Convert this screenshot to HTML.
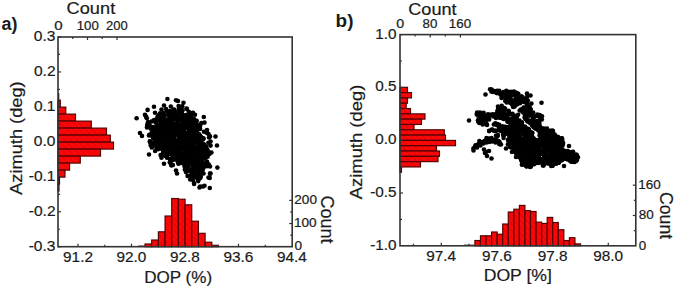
<!DOCTYPE html>
<html><head><meta charset="utf-8"><style>
html,body{margin:0;padding:0;background:#fff;}
svg{display:block;}
</style></head><body>
<svg width="675" height="290" viewBox="0 0 675 290">
<defs>
<pattern id="hatch" patternUnits="userSpaceOnUse" width="4.5" height="4.5" patternTransform="rotate(-45)">
<rect width="4.5" height="4.5" fill="#f80808"/>
<line x1="0" y1="0" x2="0" y2="4.5" stroke="#dc0000" stroke-width="1.2"/>
</pattern>
</defs>
<rect width="675" height="290" fill="#fff"/>
<g>
<rect x="58.00" y="100.10" width="2.30" height="7.00" fill="url(#hatch)" stroke="#500000" stroke-width="1.15"/>
<rect x="58.00" y="107.10" width="7.80" height="7.00" fill="url(#hatch)" stroke="#500000" stroke-width="1.15"/>
<rect x="58.00" y="114.10" width="17.50" height="7.00" fill="url(#hatch)" stroke="#500000" stroke-width="1.15"/>
<rect x="58.00" y="121.10" width="33.30" height="7.00" fill="url(#hatch)" stroke="#500000" stroke-width="1.15"/>
<rect x="58.00" y="128.10" width="48.50" height="7.00" fill="url(#hatch)" stroke="#500000" stroke-width="1.15"/>
<rect x="58.00" y="135.10" width="52.30" height="7.00" fill="url(#hatch)" stroke="#500000" stroke-width="1.15"/>
<rect x="58.00" y="142.10" width="55.50" height="7.00" fill="url(#hatch)" stroke="#500000" stroke-width="1.15"/>
<rect x="58.00" y="149.10" width="42.50" height="7.00" fill="url(#hatch)" stroke="#500000" stroke-width="1.15"/>
<rect x="58.00" y="156.10" width="22.30" height="7.00" fill="url(#hatch)" stroke="#500000" stroke-width="1.15"/>
<rect x="58.00" y="163.10" width="11.60" height="7.00" fill="url(#hatch)" stroke="#500000" stroke-width="1.15"/>
<rect x="58.00" y="170.10" width="7.00" height="7.00" fill="url(#hatch)" stroke="#500000" stroke-width="1.15"/>
<rect x="58.00" y="177.10" width="1.50" height="7.00" fill="url(#hatch)" stroke="#500000" stroke-width="1.15"/>
<rect x="58.00" y="184.10" width="1.00" height="7.00" fill="url(#hatch)" stroke="#500000" stroke-width="1.15"/>
<rect x="145.00" y="244.00" width="6.68" height="2.70" fill="url(#hatch)" stroke="#500000" stroke-width="1.15"/>
<rect x="151.68" y="240.00" width="6.68" height="6.70" fill="url(#hatch)" stroke="#500000" stroke-width="1.15"/>
<rect x="158.36" y="231.80" width="6.68" height="14.90" fill="url(#hatch)" stroke="#500000" stroke-width="1.15"/>
<rect x="165.04" y="216.00" width="6.68" height="30.70" fill="url(#hatch)" stroke="#500000" stroke-width="1.15"/>
<rect x="171.72" y="198.50" width="6.68" height="48.20" fill="url(#hatch)" stroke="#500000" stroke-width="1.15"/>
<rect x="178.40" y="199.20" width="6.68" height="47.50" fill="url(#hatch)" stroke="#500000" stroke-width="1.15"/>
<rect x="185.08" y="204.80" width="6.68" height="41.90" fill="url(#hatch)" stroke="#500000" stroke-width="1.15"/>
<rect x="191.76" y="221.20" width="6.68" height="25.50" fill="url(#hatch)" stroke="#500000" stroke-width="1.15"/>
<rect x="198.44" y="233.30" width="6.68" height="13.40" fill="url(#hatch)" stroke="#500000" stroke-width="1.15"/>
<rect x="205.12" y="242.20" width="6.68" height="4.50" fill="url(#hatch)" stroke="#500000" stroke-width="1.15"/>
<rect x="211.80" y="245.30" width="6.68" height="1.40" fill="url(#hatch)" stroke="#500000" stroke-width="1.15"/>
<rect x="138.3" y="245.50" width="6.7" height="1.2" fill="#5a0a0a"/>
<rect x="58.0" y="93.2" width="1.3" height="6.9" fill="#5a0a0a"/>
</g>
<g fill="#000">
<circle cx="164.6" cy="141.3" r="2.3"/>
<circle cx="181.6" cy="137.0" r="2.3"/>
<circle cx="176.4" cy="156.1" r="2.3"/>
<circle cx="166.1" cy="109.1" r="2.3"/>
<circle cx="201.5" cy="170.5" r="2.3"/>
<circle cx="188.2" cy="148.7" r="2.3"/>
<circle cx="194.2" cy="153.9" r="2.3"/>
<circle cx="155.1" cy="134.4" r="2.3"/>
<circle cx="188.1" cy="160.6" r="2.3"/>
<circle cx="162.2" cy="147.5" r="2.3"/>
<circle cx="189.4" cy="160.9" r="2.3"/>
<circle cx="167.9" cy="150.7" r="2.3"/>
<circle cx="169.9" cy="132.8" r="2.3"/>
<circle cx="207.2" cy="153.7" r="2.3"/>
<circle cx="155.8" cy="141.6" r="2.3"/>
<circle cx="179.8" cy="108.9" r="2.3"/>
<circle cx="182.2" cy="135.6" r="2.3"/>
<circle cx="171.2" cy="147.2" r="2.3"/>
<circle cx="199.2" cy="134.3" r="2.3"/>
<circle cx="192.5" cy="153.0" r="2.3"/>
<circle cx="178.7" cy="135.3" r="2.3"/>
<circle cx="198.9" cy="151.6" r="2.3"/>
<circle cx="153.7" cy="120.2" r="2.3"/>
<circle cx="161.8" cy="133.8" r="2.3"/>
<circle cx="189.3" cy="160.3" r="2.3"/>
<circle cx="149.5" cy="134.7" r="2.3"/>
<circle cx="206.6" cy="132.8" r="2.3"/>
<circle cx="179.9" cy="140.7" r="2.3"/>
<circle cx="207.6" cy="156.7" r="2.3"/>
<circle cx="158.0" cy="149.2" r="2.3"/>
<circle cx="155.3" cy="122.0" r="2.3"/>
<circle cx="160.1" cy="140.2" r="2.3"/>
<circle cx="165.7" cy="148.7" r="2.3"/>
<circle cx="163.1" cy="121.8" r="2.3"/>
<circle cx="173.2" cy="142.5" r="2.3"/>
<circle cx="157.9" cy="120.0" r="2.3"/>
<circle cx="197.4" cy="127.9" r="2.3"/>
<circle cx="203.6" cy="138.5" r="2.3"/>
<circle cx="194.0" cy="133.9" r="2.3"/>
<circle cx="195.6" cy="160.3" r="2.3"/>
<circle cx="193.4" cy="159.1" r="2.3"/>
<circle cx="202.4" cy="166.1" r="2.3"/>
<circle cx="187.4" cy="167.3" r="2.3"/>
<circle cx="191.6" cy="160.8" r="2.3"/>
<circle cx="201.8" cy="172.6" r="2.3"/>
<circle cx="185.7" cy="124.9" r="2.3"/>
<circle cx="171.7" cy="134.9" r="2.3"/>
<circle cx="192.0" cy="118.5" r="2.3"/>
<circle cx="182.8" cy="116.1" r="2.3"/>
<circle cx="160.7" cy="119.8" r="2.3"/>
<circle cx="197.4" cy="167.5" r="2.3"/>
<circle cx="206.3" cy="151.2" r="2.3"/>
<circle cx="154.3" cy="130.6" r="2.3"/>
<circle cx="153.0" cy="129.8" r="2.3"/>
<circle cx="189.1" cy="117.6" r="2.3"/>
<circle cx="182.1" cy="129.1" r="2.3"/>
<circle cx="190.5" cy="156.4" r="2.3"/>
<circle cx="160.9" cy="121.0" r="2.3"/>
<circle cx="168.8" cy="153.9" r="2.3"/>
<circle cx="170.3" cy="160.8" r="2.3"/>
<circle cx="160.9" cy="127.5" r="2.3"/>
<circle cx="196.5" cy="154.5" r="2.3"/>
<circle cx="173.0" cy="117.8" r="2.3"/>
<circle cx="163.5" cy="112.8" r="2.3"/>
<circle cx="169.9" cy="120.6" r="2.3"/>
<circle cx="176.7" cy="151.8" r="2.3"/>
<circle cx="149.9" cy="141.3" r="2.3"/>
<circle cx="172.9" cy="165.0" r="2.3"/>
<circle cx="171.9" cy="154.3" r="2.3"/>
<circle cx="186.0" cy="158.9" r="2.3"/>
<circle cx="200.9" cy="155.5" r="2.3"/>
<circle cx="200.0" cy="163.4" r="2.3"/>
<circle cx="194.1" cy="136.8" r="2.3"/>
<circle cx="172.8" cy="126.7" r="2.3"/>
<circle cx="164.9" cy="154.9" r="2.3"/>
<circle cx="199.6" cy="164.1" r="2.3"/>
<circle cx="183.2" cy="146.0" r="2.3"/>
<circle cx="196.8" cy="159.3" r="2.3"/>
<circle cx="193.0" cy="156.3" r="2.3"/>
<circle cx="165.3" cy="143.7" r="2.3"/>
<circle cx="165.6" cy="132.8" r="2.3"/>
<circle cx="191.3" cy="118.4" r="2.3"/>
<circle cx="172.3" cy="133.9" r="2.3"/>
<circle cx="162.6" cy="125.1" r="2.3"/>
<circle cx="175.5" cy="117.7" r="2.3"/>
<circle cx="155.1" cy="140.0" r="2.3"/>
<circle cx="184.0" cy="132.7" r="2.3"/>
<circle cx="152.8" cy="127.5" r="2.3"/>
<circle cx="184.3" cy="138.6" r="2.3"/>
<circle cx="154.1" cy="131.6" r="2.3"/>
<circle cx="178.6" cy="106.1" r="2.3"/>
<circle cx="210.6" cy="145.6" r="2.3"/>
<circle cx="161.5" cy="127.5" r="2.3"/>
<circle cx="182.6" cy="158.3" r="2.3"/>
<circle cx="186.9" cy="109.0" r="2.3"/>
<circle cx="193.0" cy="112.8" r="2.3"/>
<circle cx="169.8" cy="124.9" r="2.3"/>
<circle cx="177.8" cy="116.4" r="2.3"/>
<circle cx="202.9" cy="150.3" r="2.3"/>
<circle cx="152.4" cy="136.5" r="2.3"/>
<circle cx="158.1" cy="147.4" r="2.3"/>
<circle cx="201.1" cy="165.2" r="2.3"/>
<circle cx="151.5" cy="121.5" r="2.3"/>
<circle cx="198.3" cy="167.3" r="2.3"/>
<circle cx="185.5" cy="150.1" r="2.3"/>
<circle cx="181.4" cy="149.0" r="2.3"/>
<circle cx="159.9" cy="148.6" r="2.3"/>
<circle cx="152.2" cy="127.7" r="2.3"/>
<circle cx="160.7" cy="140.9" r="2.3"/>
<circle cx="188.7" cy="128.4" r="2.3"/>
<circle cx="191.8" cy="129.5" r="2.3"/>
<circle cx="175.3" cy="133.5" r="2.3"/>
<circle cx="169.8" cy="115.1" r="2.3"/>
<circle cx="205.3" cy="147.2" r="2.3"/>
<circle cx="178.6" cy="146.8" r="2.3"/>
<circle cx="202.3" cy="159.0" r="2.3"/>
<circle cx="165.4" cy="127.5" r="2.3"/>
<circle cx="152.7" cy="130.0" r="2.3"/>
<circle cx="170.9" cy="123.0" r="2.3"/>
<circle cx="193.3" cy="126.6" r="2.3"/>
<circle cx="165.6" cy="134.6" r="2.3"/>
<circle cx="168.8" cy="121.6" r="2.3"/>
<circle cx="194.2" cy="124.9" r="2.3"/>
<circle cx="189.0" cy="132.6" r="2.3"/>
<circle cx="183.2" cy="128.5" r="2.3"/>
<circle cx="177.7" cy="158.6" r="2.3"/>
<circle cx="154.5" cy="129.7" r="2.3"/>
<circle cx="180.9" cy="139.1" r="2.3"/>
<circle cx="197.0" cy="159.5" r="2.3"/>
<circle cx="175.8" cy="154.6" r="2.3"/>
<circle cx="190.1" cy="120.8" r="2.3"/>
<circle cx="165.0" cy="139.0" r="2.3"/>
<circle cx="171.1" cy="164.7" r="2.3"/>
<circle cx="196.2" cy="138.5" r="2.3"/>
<circle cx="177.1" cy="126.1" r="2.3"/>
<circle cx="180.9" cy="112.6" r="2.3"/>
<circle cx="192.3" cy="173.4" r="2.3"/>
<circle cx="183.5" cy="123.4" r="2.3"/>
<circle cx="193.2" cy="121.1" r="2.3"/>
<circle cx="179.7" cy="160.2" r="2.3"/>
<circle cx="192.1" cy="143.2" r="2.3"/>
<circle cx="201.6" cy="155.4" r="2.3"/>
<circle cx="170.4" cy="123.9" r="2.3"/>
<circle cx="165.0" cy="135.1" r="2.3"/>
<circle cx="190.3" cy="131.2" r="2.3"/>
<circle cx="192.1" cy="136.9" r="2.3"/>
<circle cx="184.7" cy="153.7" r="2.3"/>
<circle cx="184.4" cy="143.9" r="2.3"/>
<circle cx="199.5" cy="167.6" r="2.3"/>
<circle cx="162.3" cy="140.9" r="2.3"/>
<circle cx="198.2" cy="156.6" r="2.3"/>
<circle cx="176.4" cy="142.5" r="2.3"/>
<circle cx="184.8" cy="140.9" r="2.3"/>
<circle cx="147.1" cy="125.9" r="2.3"/>
<circle cx="157.1" cy="135.2" r="2.3"/>
<circle cx="200.1" cy="128.7" r="2.3"/>
<circle cx="193.4" cy="129.8" r="2.3"/>
<circle cx="197.0" cy="131.7" r="2.3"/>
<circle cx="177.2" cy="118.5" r="2.3"/>
<circle cx="179.1" cy="146.7" r="2.3"/>
<circle cx="187.6" cy="136.8" r="2.3"/>
<circle cx="195.5" cy="134.9" r="2.3"/>
<circle cx="206.8" cy="166.3" r="2.3"/>
<circle cx="155.8" cy="130.8" r="2.3"/>
<circle cx="168.2" cy="153.4" r="2.3"/>
<circle cx="184.9" cy="141.1" r="2.3"/>
<circle cx="191.1" cy="130.7" r="2.3"/>
<circle cx="189.2" cy="121.3" r="2.3"/>
<circle cx="170.6" cy="153.3" r="2.3"/>
<circle cx="194.2" cy="119.8" r="2.3"/>
<circle cx="158.6" cy="115.3" r="2.3"/>
<circle cx="190.6" cy="115.5" r="2.3"/>
<circle cx="178.5" cy="142.8" r="2.3"/>
<circle cx="208.3" cy="153.3" r="2.3"/>
<circle cx="190.1" cy="152.2" r="2.3"/>
<circle cx="161.5" cy="157.7" r="2.3"/>
<circle cx="173.5" cy="109.6" r="2.3"/>
<circle cx="185.7" cy="166.7" r="2.3"/>
<circle cx="170.7" cy="117.8" r="2.3"/>
<circle cx="184.3" cy="139.0" r="2.3"/>
<circle cx="200.8" cy="137.3" r="2.3"/>
<circle cx="174.1" cy="128.6" r="2.3"/>
<circle cx="179.2" cy="147.8" r="2.3"/>
<circle cx="193.2" cy="161.7" r="2.3"/>
<circle cx="161.9" cy="143.0" r="2.3"/>
<circle cx="173.7" cy="113.6" r="2.3"/>
<circle cx="183.6" cy="146.0" r="2.3"/>
<circle cx="200.2" cy="148.2" r="2.3"/>
<circle cx="178.0" cy="140.3" r="2.3"/>
<circle cx="162.6" cy="145.6" r="2.3"/>
<circle cx="190.2" cy="127.7" r="2.3"/>
<circle cx="173.6" cy="144.8" r="2.3"/>
<circle cx="168.5" cy="129.2" r="2.3"/>
<circle cx="159.9" cy="127.5" r="2.3"/>
<circle cx="198.2" cy="181.1" r="2.3"/>
<circle cx="165.4" cy="121.8" r="2.3"/>
<circle cx="194.5" cy="138.6" r="2.3"/>
<circle cx="202.5" cy="150.7" r="2.3"/>
<circle cx="187.9" cy="156.0" r="2.3"/>
<circle cx="193.4" cy="147.4" r="2.3"/>
<circle cx="157.2" cy="141.3" r="2.3"/>
<circle cx="189.4" cy="125.7" r="2.3"/>
<circle cx="161.2" cy="133.9" r="2.3"/>
<circle cx="195.4" cy="138.3" r="2.3"/>
<circle cx="174.2" cy="127.6" r="2.3"/>
<circle cx="157.6" cy="116.8" r="2.3"/>
<circle cx="174.3" cy="136.8" r="2.3"/>
<circle cx="162.2" cy="143.5" r="2.3"/>
<circle cx="196.2" cy="129.4" r="2.3"/>
<circle cx="169.2" cy="130.5" r="2.3"/>
<circle cx="188.5" cy="166.8" r="2.3"/>
<circle cx="156.9" cy="139.5" r="2.3"/>
<circle cx="174.7" cy="131.2" r="2.3"/>
<circle cx="172.0" cy="155.0" r="2.3"/>
<circle cx="199.5" cy="163.2" r="2.3"/>
<circle cx="199.4" cy="125.9" r="2.3"/>
<circle cx="177.5" cy="154.2" r="2.3"/>
<circle cx="165.1" cy="137.9" r="2.3"/>
<circle cx="159.2" cy="135.5" r="2.3"/>
<circle cx="195.4" cy="167.4" r="2.3"/>
<circle cx="197.3" cy="133.9" r="2.3"/>
<circle cx="182.0" cy="125.0" r="2.3"/>
<circle cx="193.3" cy="151.9" r="2.3"/>
<circle cx="167.2" cy="111.5" r="2.3"/>
<circle cx="192.4" cy="148.1" r="2.3"/>
<circle cx="189.1" cy="146.9" r="2.3"/>
<circle cx="169.5" cy="133.9" r="2.3"/>
<circle cx="186.9" cy="155.2" r="2.3"/>
<circle cx="179.7" cy="153.6" r="2.3"/>
<circle cx="193.1" cy="142.5" r="2.3"/>
<circle cx="198.0" cy="179.6" r="2.3"/>
<circle cx="191.2" cy="119.5" r="2.3"/>
<circle cx="182.8" cy="137.6" r="2.3"/>
<circle cx="190.0" cy="132.0" r="2.3"/>
<circle cx="172.1" cy="136.5" r="2.3"/>
<circle cx="181.5" cy="128.5" r="2.3"/>
<circle cx="155.9" cy="140.2" r="2.3"/>
<circle cx="183.1" cy="118.0" r="2.3"/>
<circle cx="197.0" cy="153.3" r="2.3"/>
<circle cx="191.7" cy="156.0" r="2.3"/>
<circle cx="198.6" cy="158.9" r="2.3"/>
<circle cx="160.9" cy="142.1" r="2.3"/>
<circle cx="161.4" cy="135.4" r="2.3"/>
<circle cx="181.8" cy="117.4" r="2.3"/>
<circle cx="184.9" cy="144.3" r="2.3"/>
<circle cx="188.6" cy="170.7" r="2.3"/>
<circle cx="183.4" cy="124.7" r="2.3"/>
<circle cx="182.0" cy="133.8" r="2.3"/>
<circle cx="173.0" cy="152.3" r="2.3"/>
<circle cx="179.3" cy="131.3" r="2.3"/>
<circle cx="191.5" cy="133.8" r="2.3"/>
<circle cx="171.7" cy="117.1" r="2.3"/>
<circle cx="173.5" cy="159.6" r="2.3"/>
<circle cx="184.2" cy="118.5" r="2.3"/>
<circle cx="189.4" cy="141.2" r="2.3"/>
<circle cx="187.1" cy="170.4" r="2.3"/>
<circle cx="178.3" cy="134.0" r="2.3"/>
<circle cx="156.5" cy="144.6" r="2.3"/>
<circle cx="153.3" cy="130.8" r="2.3"/>
<circle cx="164.7" cy="152.1" r="2.3"/>
<circle cx="175.5" cy="114.2" r="2.3"/>
<circle cx="162.8" cy="124.4" r="2.3"/>
<circle cx="184.4" cy="166.0" r="2.3"/>
<circle cx="179.2" cy="135.7" r="2.3"/>
<circle cx="207.2" cy="152.0" r="2.3"/>
<circle cx="199.9" cy="178.1" r="2.3"/>
<circle cx="194.2" cy="163.0" r="2.3"/>
<circle cx="192.7" cy="159.8" r="2.3"/>
<circle cx="190.8" cy="153.9" r="2.3"/>
<circle cx="174.7" cy="114.4" r="2.3"/>
<circle cx="192.3" cy="148.8" r="2.3"/>
<circle cx="185.9" cy="153.2" r="2.3"/>
<circle cx="197.1" cy="156.1" r="2.3"/>
<circle cx="194.5" cy="153.5" r="2.3"/>
<circle cx="208.4" cy="142.8" r="2.3"/>
<circle cx="160.6" cy="155.1" r="2.3"/>
<circle cx="201.5" cy="142.7" r="2.3"/>
<circle cx="163.9" cy="155.1" r="2.3"/>
<circle cx="191.9" cy="138.9" r="2.3"/>
<circle cx="194.1" cy="173.6" r="2.3"/>
<circle cx="180.9" cy="133.3" r="2.3"/>
<circle cx="183.7" cy="143.2" r="2.3"/>
<circle cx="193.0" cy="158.1" r="2.3"/>
<circle cx="199.9" cy="135.8" r="2.3"/>
<circle cx="173.8" cy="124.3" r="2.3"/>
<circle cx="165.4" cy="119.8" r="2.3"/>
<circle cx="194.6" cy="167.4" r="2.3"/>
<circle cx="148.1" cy="122.0" r="2.3"/>
<circle cx="200.9" cy="157.9" r="2.3"/>
<circle cx="179.8" cy="157.3" r="2.3"/>
<circle cx="159.8" cy="132.4" r="2.3"/>
<circle cx="180.0" cy="110.2" r="2.3"/>
<circle cx="189.7" cy="126.5" r="2.3"/>
<circle cx="163.3" cy="146.2" r="2.3"/>
<circle cx="153.9" cy="130.4" r="2.3"/>
<circle cx="165.3" cy="148.2" r="2.3"/>
<circle cx="164.7" cy="145.7" r="2.3"/>
<circle cx="204.1" cy="156.8" r="2.3"/>
<circle cx="169.9" cy="159.1" r="2.3"/>
<circle cx="166.8" cy="137.5" r="2.3"/>
<circle cx="177.1" cy="122.8" r="2.3"/>
<circle cx="190.9" cy="170.4" r="2.3"/>
<circle cx="182.7" cy="143.1" r="2.3"/>
<circle cx="185.5" cy="116.3" r="2.3"/>
<circle cx="196.4" cy="137.6" r="2.3"/>
<circle cx="162.7" cy="141.5" r="2.3"/>
<circle cx="163.7" cy="143.7" r="2.3"/>
<circle cx="202.6" cy="164.0" r="2.3"/>
<circle cx="204.0" cy="131.8" r="2.3"/>
<circle cx="188.5" cy="128.7" r="2.3"/>
<circle cx="189.0" cy="156.2" r="2.3"/>
<circle cx="184.1" cy="158.6" r="2.3"/>
<circle cx="181.4" cy="139.2" r="2.3"/>
<circle cx="184.4" cy="157.0" r="2.3"/>
<circle cx="169.9" cy="111.1" r="2.3"/>
<circle cx="160.4" cy="117.5" r="2.3"/>
<circle cx="172.8" cy="154.1" r="2.3"/>
<circle cx="180.4" cy="134.5" r="2.3"/>
<circle cx="157.6" cy="142.9" r="2.3"/>
<circle cx="169.5" cy="127.2" r="2.3"/>
<circle cx="186.5" cy="165.2" r="2.3"/>
<circle cx="174.9" cy="115.1" r="2.3"/>
<circle cx="172.3" cy="118.6" r="2.3"/>
<circle cx="182.7" cy="163.3" r="2.3"/>
<circle cx="207.4" cy="149.6" r="2.3"/>
<circle cx="151.1" cy="145.5" r="2.3"/>
<circle cx="186.3" cy="155.3" r="2.3"/>
<circle cx="183.5" cy="125.2" r="2.3"/>
<circle cx="165.8" cy="156.1" r="2.3"/>
<circle cx="173.7" cy="125.2" r="2.3"/>
<circle cx="174.6" cy="124.1" r="2.3"/>
<circle cx="177.2" cy="148.4" r="2.3"/>
<circle cx="193.8" cy="118.9" r="2.3"/>
<circle cx="199.9" cy="167.4" r="2.3"/>
<circle cx="160.2" cy="134.6" r="2.3"/>
<circle cx="156.1" cy="138.9" r="2.3"/>
<circle cx="158.2" cy="134.8" r="2.3"/>
<circle cx="199.4" cy="178.5" r="2.3"/>
<circle cx="199.9" cy="160.2" r="2.3"/>
<circle cx="185.7" cy="146.8" r="2.3"/>
<circle cx="169.6" cy="151.9" r="2.3"/>
<circle cx="186.7" cy="123.0" r="2.3"/>
<circle cx="170.0" cy="127.4" r="2.3"/>
<circle cx="191.4" cy="134.8" r="2.3"/>
<circle cx="161.7" cy="146.4" r="2.3"/>
<circle cx="172.9" cy="155.0" r="2.3"/>
<circle cx="156.8" cy="124.9" r="2.3"/>
<circle cx="193.6" cy="150.8" r="2.3"/>
<circle cx="187.1" cy="164.7" r="2.3"/>
<circle cx="182.2" cy="106.3" r="2.3"/>
<circle cx="202.4" cy="152.9" r="2.3"/>
<circle cx="177.4" cy="143.2" r="2.3"/>
<circle cx="205.6" cy="165.0" r="2.3"/>
<circle cx="180.7" cy="140.1" r="2.3"/>
<circle cx="177.7" cy="128.2" r="2.3"/>
<circle cx="195.0" cy="158.2" r="2.3"/>
<circle cx="161.5" cy="140.1" r="2.3"/>
<circle cx="190.5" cy="149.1" r="2.3"/>
<circle cx="181.9" cy="156.7" r="2.3"/>
<circle cx="185.1" cy="132.9" r="2.3"/>
<circle cx="196.9" cy="172.3" r="2.3"/>
<circle cx="189.5" cy="116.2" r="2.3"/>
<circle cx="170.7" cy="147.9" r="2.3"/>
<circle cx="183.6" cy="129.6" r="2.3"/>
<circle cx="181.7" cy="112.5" r="2.3"/>
<circle cx="188.2" cy="136.9" r="2.3"/>
<circle cx="165.4" cy="148.7" r="2.3"/>
<circle cx="181.9" cy="123.7" r="2.3"/>
<circle cx="201.7" cy="152.1" r="2.3"/>
<circle cx="186.7" cy="151.5" r="2.3"/>
<circle cx="198.2" cy="142.6" r="2.3"/>
<circle cx="175.4" cy="159.1" r="2.3"/>
<circle cx="160.1" cy="113.3" r="2.3"/>
<circle cx="160.6" cy="124.1" r="2.3"/>
<circle cx="162.5" cy="128.8" r="2.3"/>
<circle cx="161.1" cy="126.1" r="2.3"/>
<circle cx="179.0" cy="144.6" r="2.3"/>
<circle cx="160.9" cy="140.3" r="2.3"/>
<circle cx="206.1" cy="155.9" r="2.3"/>
<circle cx="164.8" cy="128.0" r="2.3"/>
<circle cx="177.7" cy="161.7" r="2.3"/>
<circle cx="194.8" cy="139.1" r="2.3"/>
<circle cx="184.3" cy="128.9" r="2.3"/>
<circle cx="199.8" cy="129.0" r="2.3"/>
<circle cx="190.6" cy="128.7" r="2.3"/>
<circle cx="189.3" cy="125.8" r="2.3"/>
<circle cx="203.2" cy="168.2" r="2.3"/>
<circle cx="200.5" cy="177.4" r="2.3"/>
<circle cx="160.6" cy="140.9" r="2.3"/>
<circle cx="168.7" cy="138.5" r="2.3"/>
<circle cx="201.7" cy="160.8" r="2.3"/>
<circle cx="198.5" cy="170.1" r="2.3"/>
<circle cx="195.0" cy="161.3" r="2.3"/>
<circle cx="200.8" cy="158.9" r="2.3"/>
<circle cx="163.9" cy="151.5" r="2.3"/>
<circle cx="185.3" cy="150.9" r="2.3"/>
<circle cx="165.6" cy="133.4" r="2.3"/>
<circle cx="181.2" cy="129.9" r="2.3"/>
<circle cx="163.5" cy="131.8" r="2.3"/>
<circle cx="163.1" cy="117.5" r="2.3"/>
<circle cx="194.3" cy="151.1" r="2.3"/>
<circle cx="200.2" cy="125.6" r="2.3"/>
<circle cx="198.4" cy="138.5" r="2.3"/>
<circle cx="162.5" cy="141.4" r="2.3"/>
<circle cx="170.2" cy="148.4" r="2.3"/>
<circle cx="198.5" cy="171.2" r="2.3"/>
<circle cx="170.7" cy="163.1" r="2.3"/>
<circle cx="191.8" cy="146.9" r="2.3"/>
<circle cx="197.1" cy="150.4" r="2.3"/>
<circle cx="170.9" cy="113.9" r="2.3"/>
<circle cx="180.5" cy="161.2" r="2.3"/>
<circle cx="186.7" cy="134.7" r="2.3"/>
<circle cx="184.3" cy="156.0" r="2.3"/>
<circle cx="150.8" cy="128.7" r="2.3"/>
<circle cx="153.9" cy="130.2" r="2.3"/>
<circle cx="156.2" cy="142.0" r="2.3"/>
<circle cx="182.9" cy="148.2" r="2.3"/>
<circle cx="189.9" cy="163.6" r="2.3"/>
<circle cx="173.0" cy="147.5" r="2.3"/>
<circle cx="180.1" cy="130.2" r="2.3"/>
<circle cx="173.9" cy="140.2" r="2.3"/>
<circle cx="190.9" cy="128.6" r="2.3"/>
<circle cx="181.4" cy="161.2" r="2.3"/>
<circle cx="151.8" cy="147.5" r="2.3"/>
<circle cx="200.2" cy="136.1" r="2.3"/>
<circle cx="191.1" cy="164.1" r="2.3"/>
<circle cx="155.4" cy="132.4" r="2.3"/>
<circle cx="156.7" cy="144.2" r="2.3"/>
<circle cx="187.0" cy="167.7" r="2.3"/>
<circle cx="178.7" cy="142.8" r="2.3"/>
<circle cx="176.8" cy="158.0" r="2.3"/>
<circle cx="155.1" cy="151.0" r="2.3"/>
<circle cx="186.3" cy="126.9" r="2.3"/>
<circle cx="158.4" cy="132.8" r="2.3"/>
<circle cx="187.0" cy="146.6" r="2.3"/>
<circle cx="184.3" cy="140.6" r="2.3"/>
<circle cx="197.0" cy="177.5" r="2.3"/>
<circle cx="163.3" cy="150.5" r="2.3"/>
<circle cx="195.6" cy="160.5" r="2.3"/>
<circle cx="177.9" cy="114.7" r="2.3"/>
<circle cx="194.7" cy="123.9" r="2.3"/>
<circle cx="149.7" cy="125.3" r="2.3"/>
<circle cx="174.5" cy="118.7" r="2.3"/>
<circle cx="193.8" cy="127.6" r="2.3"/>
<circle cx="162.9" cy="125.2" r="2.3"/>
<circle cx="197.1" cy="129.4" r="2.3"/>
<circle cx="184.3" cy="119.9" r="2.3"/>
<circle cx="170.6" cy="131.3" r="2.3"/>
<circle cx="154.5" cy="142.0" r="2.3"/>
<circle cx="208.9" cy="152.4" r="2.3"/>
<circle cx="190.2" cy="179.4" r="2.3"/>
<circle cx="182.9" cy="126.4" r="2.3"/>
<circle cx="194.8" cy="141.2" r="2.3"/>
<circle cx="160.3" cy="148.4" r="2.3"/>
<circle cx="195.0" cy="143.1" r="2.3"/>
<circle cx="190.8" cy="147.0" r="2.3"/>
<circle cx="177.5" cy="143.3" r="2.3"/>
<circle cx="197.2" cy="148.2" r="2.3"/>
<circle cx="191.3" cy="123.1" r="2.3"/>
<circle cx="172.0" cy="136.6" r="2.3"/>
<circle cx="178.3" cy="146.8" r="2.3"/>
<circle cx="195.3" cy="123.8" r="2.3"/>
<circle cx="200.6" cy="176.4" r="2.3"/>
<circle cx="197.5" cy="126.1" r="2.3"/>
<circle cx="158.7" cy="136.3" r="2.3"/>
<circle cx="170.1" cy="138.5" r="2.3"/>
<circle cx="191.0" cy="160.3" r="2.3"/>
<circle cx="163.3" cy="129.7" r="2.3"/>
<circle cx="173.3" cy="136.8" r="2.3"/>
<circle cx="186.1" cy="138.7" r="2.3"/>
<circle cx="161.8" cy="141.6" r="2.3"/>
<circle cx="197.3" cy="174.5" r="2.3"/>
<circle cx="180.5" cy="159.4" r="2.3"/>
<circle cx="150.7" cy="145.0" r="2.3"/>
<circle cx="172.5" cy="127.3" r="2.3"/>
<circle cx="170.2" cy="140.8" r="2.3"/>
<circle cx="195.5" cy="126.8" r="2.3"/>
<circle cx="167.1" cy="157.3" r="2.3"/>
<circle cx="179.5" cy="156.5" r="2.3"/>
<circle cx="194.0" cy="143.2" r="2.3"/>
<circle cx="149.0" cy="135.5" r="2.3"/>
<circle cx="167.9" cy="130.8" r="2.3"/>
<circle cx="163.6" cy="116.8" r="2.3"/>
<circle cx="154.5" cy="139.0" r="2.3"/>
<circle cx="192.7" cy="148.3" r="2.3"/>
<circle cx="157.4" cy="142.1" r="2.3"/>
<circle cx="171.5" cy="121.2" r="2.3"/>
<circle cx="194.2" cy="164.1" r="2.3"/>
<circle cx="156.7" cy="128.9" r="2.3"/>
<circle cx="192.0" cy="171.5" r="2.3"/>
<circle cx="200.3" cy="160.8" r="2.3"/>
<circle cx="202.6" cy="147.1" r="2.3"/>
<circle cx="170.6" cy="150.8" r="2.3"/>
<circle cx="194.5" cy="120.1" r="2.3"/>
<circle cx="190.5" cy="148.2" r="2.3"/>
<circle cx="182.8" cy="118.8" r="2.3"/>
<circle cx="171.8" cy="112.0" r="2.3"/>
<circle cx="197.2" cy="159.5" r="2.3"/>
<circle cx="187.6" cy="175.9" r="2.3"/>
<circle cx="181.7" cy="136.9" r="2.3"/>
<circle cx="177.7" cy="156.6" r="2.3"/>
<circle cx="176.8" cy="144.4" r="2.3"/>
<circle cx="201.3" cy="144.8" r="2.3"/>
<circle cx="190.9" cy="151.8" r="2.3"/>
<circle cx="187.2" cy="156.1" r="2.3"/>
<circle cx="179.2" cy="109.1" r="2.3"/>
<circle cx="163.1" cy="150.1" r="2.3"/>
<circle cx="181.7" cy="153.6" r="2.3"/>
<circle cx="183.1" cy="129.1" r="2.3"/>
<circle cx="185.2" cy="163.2" r="2.3"/>
<circle cx="197.4" cy="124.9" r="2.3"/>
<circle cx="152.7" cy="145.0" r="2.3"/>
<circle cx="206.7" cy="131.3" r="2.3"/>
<circle cx="189.4" cy="150.6" r="2.3"/>
<circle cx="195.2" cy="153.3" r="2.3"/>
<circle cx="156.7" cy="148.8" r="2.3"/>
<circle cx="178.8" cy="149.9" r="2.3"/>
<circle cx="184.9" cy="169.6" r="2.3"/>
<circle cx="170.2" cy="134.2" r="2.3"/>
<circle cx="188.4" cy="124.8" r="2.3"/>
<circle cx="196.0" cy="147.2" r="2.3"/>
<circle cx="194.6" cy="152.4" r="2.3"/>
<circle cx="174.6" cy="139.2" r="2.3"/>
<circle cx="179.4" cy="150.5" r="2.3"/>
<circle cx="172.9" cy="127.3" r="2.3"/>
<circle cx="154.6" cy="135.5" r="2.3"/>
<circle cx="161.6" cy="119.8" r="2.3"/>
<circle cx="205.3" cy="158.8" r="2.3"/>
<circle cx="180.4" cy="119.4" r="2.3"/>
<circle cx="181.8" cy="162.8" r="2.3"/>
<circle cx="154.0" cy="145.6" r="2.3"/>
<circle cx="155.7" cy="132.4" r="2.3"/>
<circle cx="180.5" cy="129.8" r="2.3"/>
<circle cx="188.0" cy="132.6" r="2.3"/>
<circle cx="187.2" cy="157.8" r="2.3"/>
<circle cx="182.5" cy="110.4" r="2.3"/>
<circle cx="198.8" cy="162.1" r="2.3"/>
<circle cx="194.0" cy="145.0" r="2.3"/>
<circle cx="181.8" cy="147.5" r="2.3"/>
<circle cx="204.6" cy="154.1" r="2.3"/>
<circle cx="176.6" cy="151.8" r="2.3"/>
<circle cx="168.2" cy="139.6" r="2.3"/>
<circle cx="185.0" cy="117.6" r="2.3"/>
<circle cx="184.6" cy="116.4" r="2.3"/>
<circle cx="183.0" cy="154.4" r="2.3"/>
<circle cx="193.6" cy="141.0" r="2.3"/>
<circle cx="184.9" cy="133.4" r="2.3"/>
<circle cx="196.2" cy="136.0" r="2.3"/>
<circle cx="175.4" cy="126.4" r="2.3"/>
<circle cx="180.2" cy="107.5" r="2.3"/>
<circle cx="203.2" cy="156.4" r="2.3"/>
<circle cx="187.4" cy="139.0" r="2.3"/>
<circle cx="177.2" cy="144.9" r="2.3"/>
<circle cx="183.9" cy="131.6" r="2.3"/>
<circle cx="182.9" cy="133.6" r="2.3"/>
<circle cx="171.1" cy="141.3" r="2.3"/>
<circle cx="160.4" cy="128.3" r="2.3"/>
<circle cx="182.1" cy="124.1" r="2.3"/>
<circle cx="188.9" cy="117.3" r="2.3"/>
<circle cx="194.7" cy="121.4" r="2.3"/>
<circle cx="184.3" cy="142.8" r="2.3"/>
<circle cx="185.9" cy="125.7" r="2.3"/>
<circle cx="197.2" cy="166.9" r="2.3"/>
<circle cx="182.4" cy="128.4" r="2.3"/>
<circle cx="188.1" cy="150.9" r="2.3"/>
<circle cx="179.9" cy="119.8" r="2.3"/>
<circle cx="156.4" cy="123.0" r="2.3"/>
<circle cx="170.4" cy="137.4" r="2.3"/>
<circle cx="185.2" cy="147.6" r="2.3"/>
<circle cx="166.6" cy="147.2" r="2.3"/>
<circle cx="204.0" cy="163.4" r="2.3"/>
<circle cx="191.8" cy="158.8" r="2.3"/>
<circle cx="176.2" cy="119.4" r="2.3"/>
<circle cx="198.6" cy="143.7" r="2.3"/>
<circle cx="197.7" cy="170.4" r="2.3"/>
<circle cx="200.0" cy="160.0" r="2.3"/>
<circle cx="190.2" cy="136.4" r="2.3"/>
<circle cx="172.2" cy="122.9" r="2.3"/>
<circle cx="184.8" cy="144.9" r="2.3"/>
<circle cx="181.6" cy="113.8" r="2.3"/>
<circle cx="170.9" cy="121.6" r="2.3"/>
<circle cx="174.4" cy="156.5" r="2.3"/>
<circle cx="186.8" cy="135.9" r="2.3"/>
<circle cx="156.6" cy="128.0" r="2.3"/>
<circle cx="184.7" cy="149.0" r="2.3"/>
<circle cx="162.4" cy="131.6" r="2.3"/>
<circle cx="180.1" cy="124.4" r="2.3"/>
<circle cx="194.3" cy="164.3" r="2.3"/>
<circle cx="182.4" cy="120.4" r="2.3"/>
<circle cx="186.4" cy="116.2" r="2.3"/>
<circle cx="165.7" cy="151.0" r="2.3"/>
<circle cx="172.6" cy="129.2" r="2.3"/>
<circle cx="169.0" cy="125.0" r="2.3"/>
<circle cx="190.6" cy="134.3" r="2.3"/>
<circle cx="178.4" cy="142.0" r="2.3"/>
<circle cx="174.0" cy="119.2" r="2.3"/>
<circle cx="167.3" cy="149.9" r="2.3"/>
<circle cx="169.3" cy="118.2" r="2.3"/>
<circle cx="180.8" cy="140.0" r="2.3"/>
<circle cx="174.6" cy="140.7" r="2.3"/>
<circle cx="158.2" cy="120.3" r="2.3"/>
<circle cx="166.3" cy="125.0" r="2.3"/>
<circle cx="182.8" cy="121.8" r="2.3"/>
<circle cx="168.6" cy="146.5" r="2.3"/>
<circle cx="199.4" cy="141.9" r="2.3"/>
<circle cx="170.6" cy="125.2" r="2.3"/>
<circle cx="161.8" cy="121.4" r="2.3"/>
<circle cx="185.5" cy="160.8" r="2.3"/>
<circle cx="169.2" cy="134.9" r="2.3"/>
<circle cx="180.7" cy="132.9" r="2.3"/>
<circle cx="171.0" cy="135.7" r="2.3"/>
<circle cx="179.3" cy="109.3" r="2.3"/>
<circle cx="171.8" cy="144.0" r="2.3"/>
<circle cx="166.8" cy="141.4" r="2.3"/>
<circle cx="180.1" cy="119.1" r="2.3"/>
<circle cx="160.0" cy="134.4" r="2.3"/>
<circle cx="192.8" cy="177.2" r="2.3"/>
<circle cx="171.4" cy="132.2" r="2.3"/>
<circle cx="161.9" cy="131.3" r="2.3"/>
<circle cx="173.0" cy="159.4" r="2.3"/>
<circle cx="175.3" cy="112.4" r="2.3"/>
<circle cx="170.8" cy="130.3" r="2.3"/>
<circle cx="193.0" cy="167.9" r="2.3"/>
<circle cx="189.7" cy="118.6" r="2.3"/>
<circle cx="168.5" cy="141.3" r="2.3"/>
<circle cx="202.5" cy="165.2" r="2.3"/>
<circle cx="185.7" cy="140.8" r="2.3"/>
<circle cx="192.8" cy="130.7" r="2.3"/>
<circle cx="165.0" cy="150.2" r="2.3"/>
<circle cx="170.7" cy="145.2" r="2.3"/>
<circle cx="166.5" cy="120.9" r="2.3"/>
<circle cx="187.9" cy="121.5" r="2.3"/>
<circle cx="166.4" cy="141.8" r="2.3"/>
<circle cx="191.6" cy="155.3" r="2.3"/>
<circle cx="185.4" cy="138.0" r="2.3"/>
<circle cx="154.5" cy="138.8" r="2.3"/>
<circle cx="163.4" cy="122.7" r="2.3"/>
<circle cx="200.7" cy="170.1" r="2.3"/>
<circle cx="194.9" cy="123.3" r="2.3"/>
<circle cx="167.9" cy="115.0" r="2.3"/>
<circle cx="180.7" cy="130.9" r="2.3"/>
<circle cx="163.3" cy="136.8" r="2.3"/>
<circle cx="182.5" cy="127.1" r="2.3"/>
<circle cx="192.5" cy="151.8" r="2.3"/>
<circle cx="154.8" cy="120.8" r="2.3"/>
<circle cx="166.3" cy="125.6" r="2.3"/>
<circle cx="163.1" cy="153.0" r="2.3"/>
<circle cx="172.7" cy="116.8" r="2.3"/>
<circle cx="180.5" cy="154.5" r="2.3"/>
<circle cx="198.6" cy="167.1" r="2.3"/>
<circle cx="209.1" cy="137.4" r="2.3"/>
<circle cx="181.0" cy="118.2" r="2.3"/>
<circle cx="174.6" cy="109.9" r="2.3"/>
<circle cx="187.3" cy="150.7" r="2.3"/>
<circle cx="204.5" cy="154.8" r="2.3"/>
<circle cx="190.6" cy="175.4" r="2.3"/>
<circle cx="193.4" cy="166.5" r="2.3"/>
<circle cx="198.6" cy="166.4" r="2.3"/>
<circle cx="204.1" cy="152.8" r="2.3"/>
<circle cx="162.9" cy="117.0" r="2.3"/>
<circle cx="158.5" cy="143.3" r="2.3"/>
<circle cx="199.9" cy="164.3" r="2.3"/>
<circle cx="178.3" cy="163.1" r="2.3"/>
<circle cx="203.8" cy="150.1" r="2.3"/>
<circle cx="176.8" cy="156.7" r="2.3"/>
<circle cx="188.8" cy="146.5" r="2.3"/>
<circle cx="155.9" cy="135.4" r="2.3"/>
<circle cx="162.6" cy="135.0" r="2.3"/>
<circle cx="193.0" cy="156.9" r="2.3"/>
<circle cx="195.5" cy="171.6" r="2.3"/>
<circle cx="193.3" cy="175.3" r="2.3"/>
<circle cx="182.5" cy="128.7" r="2.3"/>
<circle cx="193.3" cy="127.2" r="2.3"/>
<circle cx="201.3" cy="123.0" r="2.3"/>
<circle cx="159.7" cy="127.3" r="2.3"/>
<circle cx="190.6" cy="146.4" r="2.3"/>
<circle cx="170.5" cy="147.4" r="2.3"/>
<circle cx="167.6" cy="124.0" r="2.3"/>
<circle cx="170.7" cy="150.2" r="2.3"/>
<circle cx="190.8" cy="136.1" r="2.3"/>
<circle cx="198.4" cy="127.2" r="2.3"/>
<circle cx="181.5" cy="137.6" r="2.3"/>
<circle cx="169.8" cy="141.9" r="2.3"/>
<circle cx="159.3" cy="125.8" r="2.3"/>
<circle cx="193.7" cy="134.6" r="2.3"/>
<circle cx="184.9" cy="158.3" r="2.3"/>
<circle cx="199.5" cy="145.0" r="2.3"/>
<circle cx="198.4" cy="135.2" r="2.3"/>
<circle cx="186.2" cy="115.0" r="2.3"/>
<circle cx="200.1" cy="175.0" r="2.3"/>
<circle cx="197.6" cy="138.2" r="2.3"/>
<circle cx="184.6" cy="127.8" r="2.3"/>
<circle cx="190.9" cy="116.1" r="2.3"/>
<circle cx="159.0" cy="147.2" r="2.3"/>
<circle cx="163.7" cy="146.9" r="2.3"/>
<circle cx="158.9" cy="127.2" r="2.3"/>
<circle cx="173.8" cy="116.0" r="2.3"/>
<circle cx="184.5" cy="150.6" r="2.3"/>
<circle cx="171.1" cy="116.2" r="2.3"/>
<circle cx="153.3" cy="138.2" r="2.3"/>
<circle cx="209.5" cy="153.9" r="2.3"/>
<circle cx="195.6" cy="166.7" r="2.3"/>
<circle cx="193.1" cy="160.5" r="2.3"/>
<circle cx="197.1" cy="147.7" r="2.3"/>
<circle cx="172.6" cy="116.6" r="2.3"/>
<circle cx="191.5" cy="169.3" r="2.3"/>
<circle cx="177.3" cy="128.0" r="2.3"/>
<circle cx="175.4" cy="131.5" r="2.3"/>
<circle cx="164.1" cy="129.8" r="2.3"/>
<circle cx="175.5" cy="150.6" r="2.3"/>
<circle cx="195.0" cy="173.0" r="2.3"/>
<circle cx="191.4" cy="171.4" r="2.3"/>
<circle cx="187.7" cy="121.0" r="2.3"/>
<circle cx="187.2" cy="121.0" r="2.3"/>
<circle cx="175.0" cy="148.7" r="2.3"/>
<circle cx="186.7" cy="147.5" r="2.3"/>
<circle cx="178.6" cy="163.7" r="2.3"/>
<circle cx="195.6" cy="148.9" r="2.3"/>
<circle cx="168.5" cy="140.9" r="2.3"/>
<circle cx="192.1" cy="178.7" r="2.3"/>
<circle cx="190.4" cy="141.2" r="2.3"/>
<circle cx="186.3" cy="127.6" r="2.3"/>
<circle cx="153.1" cy="127.1" r="2.3"/>
<circle cx="170.8" cy="120.5" r="2.3"/>
<circle cx="188.8" cy="111.7" r="2.3"/>
<circle cx="175.9" cy="152.4" r="2.3"/>
<circle cx="188.3" cy="145.2" r="2.3"/>
<circle cx="194.5" cy="132.0" r="2.3"/>
<circle cx="182.8" cy="125.2" r="2.3"/>
<circle cx="183.1" cy="132.2" r="2.3"/>
<circle cx="193.6" cy="138.5" r="2.3"/>
<circle cx="178.9" cy="110.7" r="2.3"/>
<circle cx="167.9" cy="121.4" r="2.3"/>
<circle cx="162.8" cy="141.9" r="2.3"/>
<circle cx="203.5" cy="173.5" r="2.3"/>
<circle cx="159.3" cy="128.8" r="2.3"/>
<circle cx="199.7" cy="169.6" r="2.3"/>
<circle cx="204.3" cy="144.8" r="2.3"/>
<circle cx="184.1" cy="133.0" r="2.3"/>
<circle cx="189.1" cy="113.5" r="2.3"/>
<circle cx="190.7" cy="144.0" r="2.3"/>
<circle cx="172.0" cy="138.8" r="2.3"/>
<circle cx="181.0" cy="162.1" r="2.3"/>
<circle cx="163.1" cy="135.6" r="2.3"/>
<circle cx="186.4" cy="148.6" r="2.3"/>
<circle cx="182.9" cy="155.1" r="2.3"/>
<circle cx="186.8" cy="160.5" r="2.3"/>
<circle cx="177.7" cy="127.7" r="2.3"/>
<circle cx="166.0" cy="119.5" r="2.3"/>
<circle cx="174.0" cy="145.6" r="2.3"/>
<circle cx="169.6" cy="129.1" r="2.3"/>
<circle cx="195.2" cy="157.4" r="2.3"/>
<circle cx="200.1" cy="143.7" r="2.3"/>
<circle cx="197.7" cy="178.3" r="2.3"/>
<circle cx="167.1" cy="129.2" r="2.3"/>
<circle cx="203.0" cy="139.4" r="2.3"/>
<circle cx="203.7" cy="144.3" r="2.3"/>
<circle cx="166.1" cy="155.4" r="2.3"/>
<circle cx="199.1" cy="136.6" r="2.3"/>
<circle cx="178.8" cy="125.9" r="2.3"/>
<circle cx="159.0" cy="116.9" r="2.3"/>
<circle cx="157.5" cy="134.9" r="2.3"/>
<circle cx="183.3" cy="157.1" r="2.3"/>
<circle cx="202.8" cy="168.6" r="2.3"/>
<circle cx="151.5" cy="133.2" r="2.3"/>
<circle cx="152.7" cy="127.9" r="2.3"/>
<circle cx="196.2" cy="147.5" r="2.3"/>
<circle cx="173.8" cy="141.9" r="2.3"/>
<circle cx="178.4" cy="145.4" r="2.3"/>
<circle cx="190.6" cy="142.6" r="2.3"/>
<circle cx="197.4" cy="164.0" r="2.3"/>
<circle cx="191.2" cy="136.4" r="2.3"/>
<circle cx="172.0" cy="114.6" r="2.3"/>
<circle cx="179.4" cy="119.0" r="2.3"/>
<circle cx="191.4" cy="120.8" r="2.3"/>
<circle cx="201.7" cy="169.0" r="2.3"/>
<circle cx="192.0" cy="141.4" r="2.3"/>
<circle cx="170.6" cy="128.1" r="2.3"/>
<circle cx="192.8" cy="139.3" r="2.3"/>
<circle cx="167.3" cy="141.1" r="2.3"/>
<circle cx="164.9" cy="125.2" r="2.3"/>
<circle cx="187.6" cy="146.3" r="2.3"/>
<circle cx="164.2" cy="115.2" r="2.3"/>
<circle cx="174.4" cy="153.9" r="2.3"/>
<circle cx="160.1" cy="147.6" r="2.3"/>
<circle cx="160.2" cy="147.3" r="2.3"/>
<circle cx="188.4" cy="144.1" r="2.3"/>
<circle cx="167.6" cy="133.7" r="2.3"/>
<circle cx="152.1" cy="133.1" r="2.3"/>
<circle cx="199.7" cy="141.0" r="2.3"/>
<circle cx="199.1" cy="167.6" r="2.3"/>
<circle cx="168.3" cy="133.9" r="2.3"/>
<circle cx="194.0" cy="127.7" r="2.3"/>
<circle cx="202.6" cy="138.0" r="2.3"/>
<circle cx="159.3" cy="145.7" r="2.3"/>
<circle cx="182.7" cy="133.1" r="2.3"/>
<circle cx="189.5" cy="118.1" r="2.3"/>
<circle cx="180.8" cy="153.0" r="2.3"/>
<circle cx="178.1" cy="128.2" r="2.3"/>
<circle cx="204.1" cy="155.2" r="2.3"/>
<circle cx="184.3" cy="126.7" r="2.3"/>
<circle cx="201.8" cy="153.9" r="2.3"/>
<circle cx="191.8" cy="162.5" r="2.3"/>
<circle cx="185.2" cy="144.0" r="2.3"/>
<circle cx="193.0" cy="171.8" r="2.3"/>
<circle cx="195.3" cy="162.2" r="2.3"/>
<circle cx="200.8" cy="137.1" r="2.3"/>
<circle cx="167.8" cy="145.5" r="2.3"/>
<circle cx="167.5" cy="152.7" r="2.3"/>
<circle cx="171.0" cy="140.5" r="2.3"/>
<circle cx="159.7" cy="131.6" r="2.3"/>
<circle cx="184.7" cy="135.1" r="2.3"/>
<circle cx="185.1" cy="115.3" r="2.3"/>
<circle cx="167.3" cy="147.0" r="2.3"/>
<circle cx="176.4" cy="143.7" r="2.3"/>
<circle cx="172.0" cy="142.9" r="2.3"/>
<circle cx="202.6" cy="170.0" r="2.3"/>
<circle cx="198.8" cy="177.9" r="2.3"/>
<circle cx="158.2" cy="143.2" r="2.3"/>
<circle cx="165.4" cy="121.9" r="2.3"/>
<circle cx="199.5" cy="137.7" r="2.3"/>
<circle cx="177.5" cy="130.8" r="2.3"/>
<circle cx="175.0" cy="123.8" r="2.3"/>
<circle cx="179.9" cy="149.1" r="2.3"/>
<circle cx="183.7" cy="154.5" r="2.3"/>
<circle cx="182.1" cy="161.6" r="2.3"/>
<circle cx="180.3" cy="127.3" r="2.3"/>
<circle cx="168.4" cy="148.0" r="2.3"/>
<circle cx="191.3" cy="162.1" r="2.3"/>
<circle cx="208.6" cy="164.2" r="2.3"/>
<circle cx="169.8" cy="162.3" r="2.3"/>
<circle cx="158.6" cy="139.4" r="2.3"/>
<circle cx="180.0" cy="109.9" r="2.3"/>
<circle cx="200.9" cy="173.6" r="2.3"/>
<circle cx="206.6" cy="154.2" r="2.3"/>
<circle cx="183.6" cy="142.9" r="2.3"/>
<circle cx="198.9" cy="167.1" r="2.3"/>
<circle cx="165.3" cy="147.9" r="2.3"/>
<circle cx="198.5" cy="151.8" r="2.3"/>
<circle cx="175.8" cy="124.0" r="2.3"/>
<circle cx="174.1" cy="154.3" r="2.3"/>
<circle cx="152.1" cy="143.3" r="2.3"/>
<circle cx="196.8" cy="151.8" r="2.3"/>
<circle cx="167.1" cy="157.8" r="2.3"/>
<circle cx="186.1" cy="121.4" r="2.3"/>
<circle cx="175.2" cy="115.6" r="2.3"/>
<circle cx="183.5" cy="118.6" r="2.3"/>
<circle cx="190.4" cy="159.0" r="2.3"/>
<circle cx="180.1" cy="152.0" r="2.3"/>
<circle cx="169.0" cy="125.8" r="2.3"/>
<circle cx="181.4" cy="134.0" r="2.3"/>
<circle cx="188.8" cy="131.5" r="2.3"/>
<circle cx="198.4" cy="151.7" r="2.3"/>
<circle cx="187.6" cy="142.1" r="2.3"/>
<circle cx="150.2" cy="142.2" r="2.3"/>
<circle cx="197.4" cy="136.2" r="2.3"/>
<circle cx="189.7" cy="153.7" r="2.3"/>
<circle cx="166.5" cy="151.8" r="2.3"/>
<circle cx="195.1" cy="155.8" r="2.3"/>
<circle cx="190.2" cy="124.9" r="2.3"/>
<circle cx="197.9" cy="126.9" r="2.3"/>
<circle cx="167.4" cy="138.0" r="2.3"/>
<circle cx="178.3" cy="135.9" r="2.3"/>
<circle cx="172.5" cy="159.8" r="2.3"/>
<circle cx="174.0" cy="139.4" r="2.3"/>
<circle cx="206.3" cy="146.6" r="2.3"/>
<circle cx="193.4" cy="142.5" r="2.3"/>
<circle cx="172.6" cy="155.8" r="2.3"/>
<circle cx="179.5" cy="138.9" r="2.3"/>
<circle cx="165.4" cy="142.3" r="2.3"/>
<circle cx="196.7" cy="129.3" r="2.3"/>
<circle cx="182.5" cy="135.2" r="2.3"/>
<circle cx="184.1" cy="148.1" r="2.3"/>
<circle cx="190.3" cy="121.1" r="2.3"/>
<circle cx="162.2" cy="136.8" r="2.3"/>
<circle cx="207.0" cy="161.7" r="2.3"/>
<circle cx="179.7" cy="112.8" r="2.3"/>
<circle cx="177.2" cy="130.2" r="2.3"/>
<circle cx="167.4" cy="99.0" r="2.3"/>
<circle cx="176.0" cy="100.2" r="2.3"/>
<circle cx="178.0" cy="101.0" r="2.3"/>
<circle cx="183.5" cy="102.8" r="2.3"/>
<circle cx="164.0" cy="105.5" r="2.3"/>
<circle cx="170.8" cy="106.5" r="2.3"/>
<circle cx="154.0" cy="106.7" r="2.3"/>
<circle cx="147.6" cy="109.9" r="2.3"/>
<circle cx="161.5" cy="109.5" r="2.3"/>
<circle cx="155.0" cy="112.8" r="2.3"/>
<circle cx="145.0" cy="114.8" r="2.3"/>
<circle cx="136.6" cy="118.2" r="2.3"/>
<circle cx="146.0" cy="116.6" r="2.3"/>
<circle cx="186.5" cy="108.5" r="2.3"/>
<circle cx="192.0" cy="113.0" r="2.3"/>
<circle cx="195.0" cy="114.8" r="2.3"/>
<circle cx="203.8" cy="117.0" r="2.3"/>
<circle cx="204.5" cy="122.6" r="2.3"/>
<circle cx="196.7" cy="120.9" r="2.3"/>
<circle cx="207.0" cy="130.0" r="2.3"/>
<circle cx="208.5" cy="134.0" r="2.3"/>
<circle cx="215.5" cy="136.5" r="2.3"/>
<circle cx="210.0" cy="136.4" r="2.3"/>
<circle cx="210.5" cy="141.5" r="2.3"/>
<circle cx="217.0" cy="145.5" r="2.3"/>
<circle cx="211.4" cy="152.5" r="2.3"/>
<circle cx="146.8" cy="118.2" r="2.3"/>
<circle cx="156.0" cy="119.5" r="2.3"/>
<circle cx="147.5" cy="124.0" r="2.3"/>
<circle cx="147.0" cy="127.5" r="2.3"/>
<circle cx="140.0" cy="133.0" r="2.3"/>
<circle cx="142.0" cy="136.0" r="2.3"/>
<circle cx="151.0" cy="135.0" r="2.3"/>
<circle cx="153.5" cy="137.0" r="2.3"/>
<circle cx="150.0" cy="141.5" r="2.3"/>
<circle cx="149.0" cy="154.5" r="2.3"/>
<circle cx="164.0" cy="163.8" r="2.3"/>
<circle cx="171.5" cy="165.5" r="2.3"/>
<circle cx="176.0" cy="170.5" r="2.3"/>
<circle cx="177.0" cy="173.5" r="2.3"/>
<circle cx="186.0" cy="172.0" r="2.3"/>
<circle cx="187.0" cy="171.0" r="2.3"/>
<circle cx="217.4" cy="167.6" r="2.3"/>
<circle cx="210.0" cy="166.5" r="2.3"/>
<circle cx="210.5" cy="173.6" r="2.3"/>
<circle cx="209.7" cy="177.9" r="2.3"/>
<circle cx="208.5" cy="177.5" r="2.3"/>
<circle cx="194.0" cy="183.0" r="2.3"/>
<circle cx="193.0" cy="180.0" r="2.3"/>
<circle cx="199.5" cy="187.5" r="2.3"/>
<circle cx="203.0" cy="186.5" r="2.3"/>
<circle cx="209.8" cy="188.0" r="2.3"/>
<circle cx="210.0" cy="173.5" r="2.3"/>
<circle cx="200.2" cy="186.6" r="2.3"/>
<circle cx="204.5" cy="185.7" r="2.3"/>
<circle cx="194.1" cy="184.0" r="2.3"/>
</g>
<rect x="58.0" y="37.0" width="234.2" height="209.7" fill="none" stroke="#333333" stroke-width="1.6"/>
<line x1="58.00" y1="37.00" x2="61.00" y2="37.00" stroke="#333333" stroke-width="1.2"/>
<line x1="58.00" y1="71.95" x2="61.00" y2="71.95" stroke="#333333" stroke-width="1.2"/>
<line x1="58.00" y1="106.90" x2="61.00" y2="106.90" stroke="#333333" stroke-width="1.2"/>
<line x1="58.00" y1="141.85" x2="61.00" y2="141.85" stroke="#333333" stroke-width="1.2"/>
<line x1="58.00" y1="176.80" x2="61.00" y2="176.80" stroke="#333333" stroke-width="1.2"/>
<line x1="58.00" y1="211.75" x2="61.00" y2="211.75" stroke="#333333" stroke-width="1.2"/>
<line x1="58.00" y1="246.70" x2="61.00" y2="246.70" stroke="#333333" stroke-width="1.2"/>
<line x1="58.00" y1="54.47" x2="60.00" y2="54.47" stroke="#333333" stroke-width="1.2"/>
<line x1="58.00" y1="89.42" x2="60.00" y2="89.42" stroke="#333333" stroke-width="1.2"/>
<line x1="58.00" y1="124.38" x2="60.00" y2="124.38" stroke="#333333" stroke-width="1.2"/>
<line x1="58.00" y1="159.32" x2="60.00" y2="159.32" stroke="#333333" stroke-width="1.2"/>
<line x1="58.00" y1="194.28" x2="60.00" y2="194.28" stroke="#333333" stroke-width="1.2"/>
<line x1="58.00" y1="229.23" x2="60.00" y2="229.23" stroke="#333333" stroke-width="1.2"/>
<line x1="78.00" y1="246.70" x2="78.00" y2="243.70" stroke="#333333" stroke-width="1.2"/>
<line x1="131.50" y1="246.70" x2="131.50" y2="243.70" stroke="#333333" stroke-width="1.2"/>
<line x1="185.00" y1="246.70" x2="185.00" y2="243.70" stroke="#333333" stroke-width="1.2"/>
<line x1="238.50" y1="246.70" x2="238.50" y2="243.70" stroke="#333333" stroke-width="1.2"/>
<line x1="104.75" y1="246.70" x2="104.75" y2="244.70" stroke="#333333" stroke-width="1.2"/>
<line x1="158.25" y1="246.70" x2="158.25" y2="244.70" stroke="#333333" stroke-width="1.2"/>
<line x1="211.75" y1="246.70" x2="211.75" y2="244.70" stroke="#333333" stroke-width="1.2"/>
<line x1="265.25" y1="246.70" x2="265.25" y2="244.70" stroke="#333333" stroke-width="1.2"/>
<line x1="87.50" y1="37.00" x2="87.50" y2="40.00" stroke="#333333" stroke-width="1.2"/>
<line x1="117.00" y1="37.00" x2="117.00" y2="40.00" stroke="#333333" stroke-width="1.2"/>
<line x1="72.75" y1="37.00" x2="72.75" y2="39.00" stroke="#333333" stroke-width="1.2"/>
<line x1="102.25" y1="37.00" x2="102.25" y2="39.00" stroke="#333333" stroke-width="1.2"/>
<line x1="292.20" y1="223.55" x2="289.20" y2="223.55" stroke="#333333" stroke-width="1.2"/>
<line x1="292.20" y1="200.40" x2="289.20" y2="200.40" stroke="#333333" stroke-width="1.2"/>
<line x1="292.20" y1="235.12" x2="290.20" y2="235.12" stroke="#333333" stroke-width="1.2"/>
<line x1="292.20" y1="211.97" x2="290.20" y2="211.97" stroke="#333333" stroke-width="1.2"/>
<g>
<rect x="400.00" y="87.30" width="7.50" height="5.31" fill="url(#hatch)" stroke="#500000" stroke-width="1.15"/>
<rect x="400.00" y="92.61" width="11.50" height="5.31" fill="url(#hatch)" stroke="#500000" stroke-width="1.15"/>
<rect x="400.00" y="97.92" width="7.50" height="5.31" fill="url(#hatch)" stroke="#500000" stroke-width="1.15"/>
<rect x="400.00" y="103.23" width="6.20" height="5.31" fill="url(#hatch)" stroke="#500000" stroke-width="1.15"/>
<rect x="400.00" y="108.54" width="10.50" height="5.31" fill="url(#hatch)" stroke="#500000" stroke-width="1.15"/>
<rect x="400.00" y="113.85" width="25.00" height="5.31" fill="url(#hatch)" stroke="#500000" stroke-width="1.15"/>
<rect x="400.00" y="119.16" width="21.50" height="5.31" fill="url(#hatch)" stroke="#500000" stroke-width="1.15"/>
<rect x="400.00" y="124.47" width="14.00" height="5.31" fill="url(#hatch)" stroke="#500000" stroke-width="1.15"/>
<rect x="400.00" y="129.78" width="44.30" height="5.31" fill="url(#hatch)" stroke="#500000" stroke-width="1.15"/>
<rect x="400.00" y="135.09" width="45.50" height="5.31" fill="url(#hatch)" stroke="#500000" stroke-width="1.15"/>
<rect x="400.00" y="140.40" width="55.50" height="5.31" fill="url(#hatch)" stroke="#500000" stroke-width="1.15"/>
<rect x="400.00" y="145.71" width="36.50" height="5.31" fill="url(#hatch)" stroke="#500000" stroke-width="1.15"/>
<rect x="400.00" y="151.02" width="39.50" height="5.31" fill="url(#hatch)" stroke="#500000" stroke-width="1.15"/>
<rect x="400.00" y="156.33" width="38.00" height="5.31" fill="url(#hatch)" stroke="#500000" stroke-width="1.15"/>
<rect x="400.00" y="161.64" width="20.50" height="5.31" fill="url(#hatch)" stroke="#500000" stroke-width="1.15"/>
<rect x="400.00" y="166.95" width="1.50" height="5.31" fill="url(#hatch)" stroke="#500000" stroke-width="1.15"/>
<rect x="474.90" y="240.50" width="5.56" height="5.30" fill="url(#hatch)" stroke="#500000" stroke-width="1.15"/>
<rect x="480.46" y="235.80" width="5.56" height="10.00" fill="url(#hatch)" stroke="#500000" stroke-width="1.15"/>
<rect x="486.02" y="235.80" width="5.56" height="10.00" fill="url(#hatch)" stroke="#500000" stroke-width="1.15"/>
<rect x="491.58" y="232.00" width="5.56" height="13.80" fill="url(#hatch)" stroke="#500000" stroke-width="1.15"/>
<rect x="497.14" y="234.20" width="5.56" height="11.60" fill="url(#hatch)" stroke="#500000" stroke-width="1.15"/>
<rect x="502.70" y="224.00" width="5.56" height="21.80" fill="url(#hatch)" stroke="#500000" stroke-width="1.15"/>
<rect x="508.26" y="212.00" width="5.56" height="33.80" fill="url(#hatch)" stroke="#500000" stroke-width="1.15"/>
<rect x="513.82" y="209.20" width="5.56" height="36.60" fill="url(#hatch)" stroke="#500000" stroke-width="1.15"/>
<rect x="519.38" y="205.40" width="5.56" height="40.40" fill="url(#hatch)" stroke="#500000" stroke-width="1.15"/>
<rect x="524.94" y="210.70" width="5.56" height="35.10" fill="url(#hatch)" stroke="#500000" stroke-width="1.15"/>
<rect x="530.50" y="211.50" width="5.56" height="34.30" fill="url(#hatch)" stroke="#500000" stroke-width="1.15"/>
<rect x="536.06" y="222.10" width="5.56" height="23.70" fill="url(#hatch)" stroke="#500000" stroke-width="1.15"/>
<rect x="541.62" y="223.40" width="5.56" height="22.40" fill="url(#hatch)" stroke="#500000" stroke-width="1.15"/>
<rect x="547.18" y="217.40" width="5.56" height="28.40" fill="url(#hatch)" stroke="#500000" stroke-width="1.15"/>
<rect x="552.74" y="222.50" width="5.56" height="23.30" fill="url(#hatch)" stroke="#500000" stroke-width="1.15"/>
<rect x="558.30" y="229.70" width="5.56" height="16.10" fill="url(#hatch)" stroke="#500000" stroke-width="1.15"/>
<rect x="563.86" y="240.50" width="5.56" height="5.30" fill="url(#hatch)" stroke="#500000" stroke-width="1.15"/>
<rect x="569.42" y="237.70" width="5.56" height="8.10" fill="url(#hatch)" stroke="#500000" stroke-width="1.15"/>
<rect x="574.98" y="243.90" width="5.56" height="1.90" fill="url(#hatch)" stroke="#500000" stroke-width="1.15"/>
<rect x="463.8" y="244.60" width="11.1" height="1.2" fill="#3a2a2a"/>
</g>
<g fill="#000">
<circle cx="558.4" cy="152.3" r="2.3"/>
<circle cx="504.8" cy="93.1" r="2.3"/>
<circle cx="568.0" cy="155.2" r="2.3"/>
<circle cx="526.2" cy="142.0" r="2.3"/>
<circle cx="567.8" cy="157.4" r="2.3"/>
<circle cx="521.6" cy="151.6" r="2.3"/>
<circle cx="527.7" cy="128.7" r="2.3"/>
<circle cx="551.9" cy="141.8" r="2.3"/>
<circle cx="546.8" cy="138.8" r="2.3"/>
<circle cx="515.6" cy="151.5" r="2.3"/>
<circle cx="549.0" cy="137.0" r="2.3"/>
<circle cx="548.9" cy="155.4" r="2.3"/>
<circle cx="529.7" cy="109.2" r="2.3"/>
<circle cx="522.3" cy="141.3" r="2.3"/>
<circle cx="516.5" cy="135.5" r="2.3"/>
<circle cx="527.1" cy="143.1" r="2.3"/>
<circle cx="496.3" cy="92.7" r="2.3"/>
<circle cx="537.4" cy="158.5" r="2.3"/>
<circle cx="556.4" cy="162.8" r="2.3"/>
<circle cx="550.2" cy="130.9" r="2.3"/>
<circle cx="524.6" cy="154.3" r="2.3"/>
<circle cx="537.1" cy="146.2" r="2.3"/>
<circle cx="532.4" cy="141.7" r="2.3"/>
<circle cx="521.1" cy="109.4" r="2.3"/>
<circle cx="532.0" cy="124.5" r="2.3"/>
<circle cx="525.7" cy="161.3" r="2.3"/>
<circle cx="495.3" cy="114.3" r="2.3"/>
<circle cx="538.5" cy="161.3" r="2.3"/>
<circle cx="539.9" cy="128.7" r="2.3"/>
<circle cx="553.8" cy="153.5" r="2.3"/>
<circle cx="512.6" cy="93.6" r="2.3"/>
<circle cx="531.2" cy="123.6" r="2.3"/>
<circle cx="502.3" cy="126.6" r="2.3"/>
<circle cx="509.6" cy="122.3" r="2.3"/>
<circle cx="545.8" cy="150.8" r="2.3"/>
<circle cx="527.2" cy="132.6" r="2.3"/>
<circle cx="533.9" cy="152.1" r="2.3"/>
<circle cx="526.9" cy="164.3" r="2.3"/>
<circle cx="524.2" cy="158.1" r="2.3"/>
<circle cx="528.4" cy="108.5" r="2.3"/>
<circle cx="513.9" cy="91.6" r="2.3"/>
<circle cx="571.5" cy="153.1" r="2.3"/>
<circle cx="513.1" cy="133.7" r="2.3"/>
<circle cx="506.7" cy="129.4" r="2.3"/>
<circle cx="568.0" cy="151.6" r="2.3"/>
<circle cx="529.1" cy="129.9" r="2.3"/>
<circle cx="501.7" cy="94.5" r="2.3"/>
<circle cx="505.2" cy="109.0" r="2.3"/>
<circle cx="482.2" cy="116.3" r="2.3"/>
<circle cx="514.6" cy="146.3" r="2.3"/>
<circle cx="535.5" cy="163.1" r="2.3"/>
<circle cx="488.2" cy="116.7" r="2.3"/>
<circle cx="506.9" cy="127.1" r="2.3"/>
<circle cx="492.3" cy="129.6" r="2.3"/>
<circle cx="572.3" cy="155.7" r="2.3"/>
<circle cx="517.8" cy="150.7" r="2.3"/>
<circle cx="522.6" cy="97.2" r="2.3"/>
<circle cx="534.8" cy="159.1" r="2.3"/>
<circle cx="522.6" cy="100.8" r="2.3"/>
<circle cx="530.2" cy="167.0" r="2.3"/>
<circle cx="562.4" cy="149.7" r="2.3"/>
<circle cx="542.8" cy="153.9" r="2.3"/>
<circle cx="524.9" cy="162.9" r="2.3"/>
<circle cx="545.7" cy="159.0" r="2.3"/>
<circle cx="530.9" cy="148.9" r="2.3"/>
<circle cx="524.6" cy="156.9" r="2.3"/>
<circle cx="510.3" cy="100.3" r="2.3"/>
<circle cx="518.6" cy="142.4" r="2.3"/>
<circle cx="514.8" cy="129.4" r="2.3"/>
<circle cx="516.5" cy="142.6" r="2.3"/>
<circle cx="521.6" cy="124.0" r="2.3"/>
<circle cx="485.2" cy="116.4" r="2.3"/>
<circle cx="519.1" cy="127.8" r="2.3"/>
<circle cx="509.9" cy="98.0" r="2.3"/>
<circle cx="544.8" cy="153.2" r="2.3"/>
<circle cx="525.8" cy="152.8" r="2.3"/>
<circle cx="558.1" cy="143.0" r="2.3"/>
<circle cx="510.7" cy="127.3" r="2.3"/>
<circle cx="554.1" cy="139.4" r="2.3"/>
<circle cx="571.2" cy="153.3" r="2.3"/>
<circle cx="570.3" cy="152.5" r="2.3"/>
<circle cx="510.3" cy="91.9" r="2.3"/>
<circle cx="537.2" cy="140.9" r="2.3"/>
<circle cx="533.2" cy="148.3" r="2.3"/>
<circle cx="523.1" cy="140.3" r="2.3"/>
<circle cx="510.2" cy="102.8" r="2.3"/>
<circle cx="555.9" cy="156.8" r="2.3"/>
<circle cx="480.0" cy="112.5" r="2.3"/>
<circle cx="537.0" cy="127.1" r="2.3"/>
<circle cx="525.3" cy="131.2" r="2.3"/>
<circle cx="532.1" cy="136.4" r="2.3"/>
<circle cx="537.4" cy="148.1" r="2.3"/>
<circle cx="522.4" cy="99.1" r="2.3"/>
<circle cx="550.9" cy="134.9" r="2.3"/>
<circle cx="493.5" cy="116.5" r="2.3"/>
<circle cx="561.6" cy="144.0" r="2.3"/>
<circle cx="547.9" cy="137.2" r="2.3"/>
<circle cx="478.2" cy="115.8" r="2.3"/>
<circle cx="526.5" cy="156.7" r="2.3"/>
<circle cx="555.8" cy="153.3" r="2.3"/>
<circle cx="515.0" cy="115.8" r="2.3"/>
<circle cx="517.8" cy="149.0" r="2.3"/>
<circle cx="549.8" cy="148.7" r="2.3"/>
<circle cx="511.5" cy="138.9" r="2.3"/>
<circle cx="556.2" cy="137.5" r="2.3"/>
<circle cx="509.7" cy="139.7" r="2.3"/>
<circle cx="505.0" cy="133.9" r="2.3"/>
<circle cx="544.1" cy="129.6" r="2.3"/>
<circle cx="539.5" cy="145.5" r="2.3"/>
<circle cx="545.1" cy="160.4" r="2.3"/>
<circle cx="556.2" cy="150.5" r="2.3"/>
<circle cx="531.4" cy="150.7" r="2.3"/>
<circle cx="567.5" cy="159.5" r="2.3"/>
<circle cx="496.0" cy="135.8" r="2.3"/>
<circle cx="523.9" cy="160.6" r="2.3"/>
<circle cx="480.7" cy="119.6" r="2.3"/>
<circle cx="529.5" cy="155.3" r="2.3"/>
<circle cx="516.7" cy="93.1" r="2.3"/>
<circle cx="544.0" cy="146.5" r="2.3"/>
<circle cx="524.2" cy="102.1" r="2.3"/>
<circle cx="489.3" cy="130.8" r="2.3"/>
<circle cx="574.5" cy="161.5" r="2.3"/>
<circle cx="533.0" cy="139.7" r="2.3"/>
<circle cx="568.0" cy="154.8" r="2.3"/>
<circle cx="532.5" cy="156.4" r="2.3"/>
<circle cx="536.8" cy="152.4" r="2.3"/>
<circle cx="536.6" cy="149.1" r="2.3"/>
<circle cx="534.9" cy="160.5" r="2.3"/>
<circle cx="505.9" cy="96.8" r="2.3"/>
<circle cx="576.4" cy="155.4" r="2.3"/>
<circle cx="495.2" cy="131.1" r="2.3"/>
<circle cx="520.2" cy="156.6" r="2.3"/>
<circle cx="529.5" cy="163.5" r="2.3"/>
<circle cx="477.0" cy="113.0" r="2.3"/>
<circle cx="549.7" cy="156.2" r="2.3"/>
<circle cx="531.9" cy="146.2" r="2.3"/>
<circle cx="546.1" cy="157.0" r="2.3"/>
<circle cx="504.4" cy="108.0" r="2.3"/>
<circle cx="559.4" cy="140.2" r="2.3"/>
<circle cx="524.1" cy="159.9" r="2.3"/>
<circle cx="554.1" cy="144.0" r="2.3"/>
<circle cx="547.6" cy="161.2" r="2.3"/>
<circle cx="550.9" cy="156.1" r="2.3"/>
<circle cx="531.3" cy="161.2" r="2.3"/>
<circle cx="501.6" cy="97.9" r="2.3"/>
<circle cx="567.9" cy="151.7" r="2.3"/>
<circle cx="537.6" cy="140.4" r="2.3"/>
<circle cx="542.3" cy="138.0" r="2.3"/>
<circle cx="506.0" cy="99.7" r="2.3"/>
<circle cx="552.6" cy="138.0" r="2.3"/>
<circle cx="557.4" cy="160.5" r="2.3"/>
<circle cx="528.7" cy="110.1" r="2.3"/>
<circle cx="500.9" cy="131.0" r="2.3"/>
<circle cx="543.0" cy="135.6" r="2.3"/>
<circle cx="485.4" cy="119.5" r="2.3"/>
<circle cx="556.8" cy="152.0" r="2.3"/>
<circle cx="515.9" cy="127.7" r="2.3"/>
<circle cx="532.0" cy="125.1" r="2.3"/>
<circle cx="476.8" cy="114.4" r="2.3"/>
<circle cx="539.9" cy="145.3" r="2.3"/>
<circle cx="512.0" cy="104.5" r="2.3"/>
<circle cx="551.4" cy="156.6" r="2.3"/>
<circle cx="523.1" cy="156.0" r="2.3"/>
<circle cx="552.1" cy="156.1" r="2.3"/>
<circle cx="557.8" cy="138.7" r="2.3"/>
<circle cx="558.4" cy="162.8" r="2.3"/>
<circle cx="537.7" cy="124.6" r="2.3"/>
<circle cx="557.2" cy="148.0" r="2.3"/>
<circle cx="513.4" cy="123.9" r="2.3"/>
<circle cx="518.8" cy="148.1" r="2.3"/>
<circle cx="519.6" cy="131.1" r="2.3"/>
<circle cx="545.0" cy="137.1" r="2.3"/>
<circle cx="570.4" cy="161.2" r="2.3"/>
<circle cx="539.9" cy="126.3" r="2.3"/>
<circle cx="517.9" cy="134.7" r="2.3"/>
<circle cx="529.4" cy="138.7" r="2.3"/>
<circle cx="533.9" cy="138.9" r="2.3"/>
<circle cx="518.7" cy="153.8" r="2.3"/>
<circle cx="537.9" cy="122.7" r="2.3"/>
<circle cx="519.7" cy="123.4" r="2.3"/>
<circle cx="537.5" cy="128.8" r="2.3"/>
<circle cx="525.2" cy="129.6" r="2.3"/>
<circle cx="514.3" cy="148.5" r="2.3"/>
<circle cx="516.0" cy="145.3" r="2.3"/>
<circle cx="520.1" cy="128.9" r="2.3"/>
<circle cx="551.2" cy="147.3" r="2.3"/>
<circle cx="519.6" cy="130.2" r="2.3"/>
<circle cx="540.4" cy="127.9" r="2.3"/>
<circle cx="528.6" cy="129.0" r="2.3"/>
<circle cx="511.8" cy="141.4" r="2.3"/>
<circle cx="533.3" cy="144.8" r="2.3"/>
<circle cx="512.1" cy="132.4" r="2.3"/>
<circle cx="525.9" cy="151.1" r="2.3"/>
<circle cx="503.2" cy="92.0" r="2.3"/>
<circle cx="574.5" cy="161.9" r="2.3"/>
<circle cx="508.5" cy="118.6" r="2.3"/>
<circle cx="529.6" cy="153.3" r="2.3"/>
<circle cx="553.3" cy="149.0" r="2.3"/>
<circle cx="544.3" cy="134.2" r="2.3"/>
<circle cx="527.9" cy="160.8" r="2.3"/>
<circle cx="553.8" cy="134.7" r="2.3"/>
<circle cx="543.2" cy="150.8" r="2.3"/>
<circle cx="553.0" cy="147.6" r="2.3"/>
<circle cx="517.0" cy="147.6" r="2.3"/>
<circle cx="533.9" cy="140.0" r="2.3"/>
<circle cx="479.7" cy="122.9" r="2.3"/>
<circle cx="571.8" cy="158.6" r="2.3"/>
<circle cx="523.5" cy="146.7" r="2.3"/>
<circle cx="514.9" cy="132.6" r="2.3"/>
<circle cx="562.5" cy="157.5" r="2.3"/>
<circle cx="499.8" cy="127.9" r="2.3"/>
<circle cx="491.7" cy="89.5" r="2.3"/>
<circle cx="552.4" cy="135.6" r="2.3"/>
<circle cx="535.6" cy="154.9" r="2.3"/>
<circle cx="500.2" cy="117.1" r="2.3"/>
<circle cx="568.7" cy="154.4" r="2.3"/>
<circle cx="551.0" cy="148.3" r="2.3"/>
<circle cx="542.9" cy="165.5" r="2.3"/>
<circle cx="526.6" cy="112.8" r="2.3"/>
<circle cx="554.1" cy="151.6" r="2.3"/>
<circle cx="540.6" cy="140.6" r="2.3"/>
<circle cx="514.8" cy="135.7" r="2.3"/>
<circle cx="545.7" cy="129.1" r="2.3"/>
<circle cx="503.6" cy="138.0" r="2.3"/>
<circle cx="537.4" cy="114.6" r="2.3"/>
<circle cx="513.1" cy="107.0" r="2.3"/>
<circle cx="532.2" cy="133.0" r="2.3"/>
<circle cx="519.7" cy="147.5" r="2.3"/>
<circle cx="515.1" cy="137.3" r="2.3"/>
<circle cx="514.0" cy="102.0" r="2.3"/>
<circle cx="512.5" cy="113.9" r="2.3"/>
<circle cx="537.0" cy="150.5" r="2.3"/>
<circle cx="533.1" cy="116.7" r="2.3"/>
<circle cx="539.7" cy="162.5" r="2.3"/>
<circle cx="513.2" cy="123.6" r="2.3"/>
<circle cx="503.9" cy="118.5" r="2.3"/>
<circle cx="567.4" cy="155.4" r="2.3"/>
<circle cx="544.5" cy="155.8" r="2.3"/>
<circle cx="524.0" cy="126.7" r="2.3"/>
<circle cx="507.9" cy="92.6" r="2.3"/>
<circle cx="519.9" cy="139.0" r="2.3"/>
<circle cx="551.0" cy="158.6" r="2.3"/>
<circle cx="505.4" cy="94.8" r="2.3"/>
<circle cx="498.2" cy="108.7" r="2.3"/>
<circle cx="506.7" cy="102.4" r="2.3"/>
<circle cx="539.0" cy="115.2" r="2.3"/>
<circle cx="564.8" cy="151.7" r="2.3"/>
<circle cx="543.9" cy="158.0" r="2.3"/>
<circle cx="524.3" cy="111.0" r="2.3"/>
<circle cx="564.5" cy="158.6" r="2.3"/>
<circle cx="513.8" cy="127.8" r="2.3"/>
<circle cx="560.9" cy="142.9" r="2.3"/>
<circle cx="552.4" cy="143.4" r="2.3"/>
<circle cx="505.8" cy="117.4" r="2.3"/>
<circle cx="552.7" cy="136.6" r="2.3"/>
<circle cx="550.1" cy="141.5" r="2.3"/>
<circle cx="528.4" cy="130.3" r="2.3"/>
<circle cx="543.6" cy="165.4" r="2.3"/>
<circle cx="549.1" cy="141.0" r="2.3"/>
<circle cx="566.4" cy="152.6" r="2.3"/>
<circle cx="563.0" cy="157.9" r="2.3"/>
<circle cx="548.5" cy="146.3" r="2.3"/>
<circle cx="547.0" cy="132.0" r="2.3"/>
<circle cx="514.9" cy="123.1" r="2.3"/>
<circle cx="543.6" cy="131.0" r="2.3"/>
<circle cx="521.4" cy="96.3" r="2.3"/>
<circle cx="508.4" cy="114.5" r="2.3"/>
<circle cx="551.1" cy="153.7" r="2.3"/>
<circle cx="503.3" cy="135.0" r="2.3"/>
<circle cx="532.0" cy="138.8" r="2.3"/>
<circle cx="548.3" cy="150.8" r="2.3"/>
<circle cx="524.7" cy="99.7" r="2.3"/>
<circle cx="539.4" cy="145.6" r="2.3"/>
<circle cx="535.9" cy="116.3" r="2.3"/>
<circle cx="519.3" cy="134.0" r="2.3"/>
<circle cx="507.8" cy="92.5" r="2.3"/>
<circle cx="502.1" cy="97.2" r="2.3"/>
<circle cx="547.2" cy="138.9" r="2.3"/>
<circle cx="531.2" cy="158.9" r="2.3"/>
<circle cx="519.3" cy="139.0" r="2.3"/>
<circle cx="534.8" cy="155.8" r="2.3"/>
<circle cx="502.7" cy="131.2" r="2.3"/>
<circle cx="533.1" cy="126.4" r="2.3"/>
<circle cx="547.0" cy="162.3" r="2.3"/>
<circle cx="495.3" cy="123.2" r="2.3"/>
<circle cx="573.5" cy="156.0" r="2.3"/>
<circle cx="518.0" cy="127.5" r="2.3"/>
<circle cx="550.6" cy="150.1" r="2.3"/>
<circle cx="523.3" cy="154.9" r="2.3"/>
<circle cx="499.2" cy="90.9" r="2.3"/>
<circle cx="534.3" cy="145.9" r="2.3"/>
<circle cx="530.4" cy="153.3" r="2.3"/>
<circle cx="554.1" cy="157.5" r="2.3"/>
<circle cx="552.7" cy="143.2" r="2.3"/>
<circle cx="494.5" cy="115.9" r="2.3"/>
<circle cx="548.6" cy="133.5" r="2.3"/>
<circle cx="573.1" cy="154.4" r="2.3"/>
<circle cx="529.1" cy="141.8" r="2.3"/>
<circle cx="523.3" cy="99.2" r="2.3"/>
<circle cx="539.2" cy="116.6" r="2.3"/>
<circle cx="523.6" cy="138.7" r="2.3"/>
<circle cx="538.7" cy="124.7" r="2.3"/>
<circle cx="522.7" cy="157.4" r="2.3"/>
<circle cx="500.2" cy="114.2" r="2.3"/>
<circle cx="497.8" cy="111.6" r="2.3"/>
<circle cx="526.9" cy="107.7" r="2.3"/>
<circle cx="538.5" cy="155.8" r="2.3"/>
<circle cx="522.5" cy="125.7" r="2.3"/>
<circle cx="555.6" cy="160.3" r="2.3"/>
<circle cx="520.2" cy="128.1" r="2.3"/>
<circle cx="544.7" cy="156.2" r="2.3"/>
<circle cx="550.5" cy="135.0" r="2.3"/>
<circle cx="510.3" cy="130.5" r="2.3"/>
<circle cx="484.5" cy="119.1" r="2.3"/>
<circle cx="527.5" cy="161.3" r="2.3"/>
<circle cx="534.6" cy="145.5" r="2.3"/>
<circle cx="571.6" cy="157.4" r="2.3"/>
<circle cx="497.7" cy="116.1" r="2.3"/>
<circle cx="539.2" cy="131.0" r="2.3"/>
<circle cx="498.9" cy="113.6" r="2.3"/>
<circle cx="577.0" cy="159.9" r="2.3"/>
<circle cx="544.0" cy="151.3" r="2.3"/>
<circle cx="512.0" cy="102.8" r="2.3"/>
<circle cx="502.1" cy="109.1" r="2.3"/>
<circle cx="548.7" cy="146.4" r="2.3"/>
<circle cx="527.1" cy="136.6" r="2.3"/>
<circle cx="573.1" cy="161.4" r="2.3"/>
<circle cx="540.7" cy="138.4" r="2.3"/>
<circle cx="558.7" cy="161.3" r="2.3"/>
<circle cx="511.6" cy="147.4" r="2.3"/>
<circle cx="544.5" cy="151.9" r="2.3"/>
<circle cx="532.7" cy="119.8" r="2.3"/>
<circle cx="522.6" cy="146.3" r="2.3"/>
<circle cx="552.2" cy="130.6" r="2.3"/>
<circle cx="504.2" cy="134.2" r="2.3"/>
<circle cx="521.6" cy="127.1" r="2.3"/>
<circle cx="541.1" cy="137.0" r="2.3"/>
<circle cx="487.0" cy="125.0" r="2.3"/>
<circle cx="571.8" cy="161.7" r="2.3"/>
<circle cx="556.2" cy="159.5" r="2.3"/>
<circle cx="514.9" cy="93.3" r="2.3"/>
<circle cx="553.8" cy="160.9" r="2.3"/>
<circle cx="545.0" cy="132.3" r="2.3"/>
<circle cx="524.6" cy="117.6" r="2.3"/>
<circle cx="548.4" cy="139.3" r="2.3"/>
<circle cx="544.4" cy="155.4" r="2.3"/>
<circle cx="541.7" cy="161.5" r="2.3"/>
<circle cx="497.8" cy="116.9" r="2.3"/>
<circle cx="557.6" cy="137.2" r="2.3"/>
<circle cx="507.7" cy="121.8" r="2.3"/>
<circle cx="510.8" cy="102.1" r="2.3"/>
<circle cx="541.7" cy="135.3" r="2.3"/>
<circle cx="545.1" cy="133.4" r="2.3"/>
<circle cx="511.9" cy="95.1" r="2.3"/>
<circle cx="487.1" cy="117.0" r="2.3"/>
<circle cx="513.3" cy="117.1" r="2.3"/>
<circle cx="515.7" cy="124.1" r="2.3"/>
<circle cx="536.1" cy="140.8" r="2.3"/>
<circle cx="573.3" cy="160.1" r="2.3"/>
<circle cx="493.9" cy="124.5" r="2.3"/>
<circle cx="508.7" cy="112.1" r="2.3"/>
<circle cx="533.9" cy="161.5" r="2.3"/>
<circle cx="528.4" cy="152.6" r="2.3"/>
<circle cx="559.1" cy="153.1" r="2.3"/>
<circle cx="528.8" cy="140.0" r="2.3"/>
<circle cx="517.8" cy="132.2" r="2.3"/>
<circle cx="519.2" cy="131.5" r="2.3"/>
<circle cx="542.0" cy="146.5" r="2.3"/>
<circle cx="520.7" cy="101.6" r="2.3"/>
<circle cx="558.0" cy="153.8" r="2.3"/>
<circle cx="528.7" cy="153.9" r="2.3"/>
<circle cx="533.4" cy="120.9" r="2.3"/>
<circle cx="516.8" cy="127.2" r="2.3"/>
<circle cx="542.3" cy="160.2" r="2.3"/>
<circle cx="549.7" cy="136.3" r="2.3"/>
<circle cx="530.0" cy="138.0" r="2.3"/>
<circle cx="531.4" cy="103.6" r="2.3"/>
<circle cx="547.1" cy="147.4" r="2.3"/>
<circle cx="569.4" cy="157.1" r="2.3"/>
<circle cx="512.4" cy="121.5" r="2.3"/>
<circle cx="534.2" cy="127.5" r="2.3"/>
<circle cx="544.7" cy="163.7" r="2.3"/>
<circle cx="535.8" cy="140.4" r="2.3"/>
<circle cx="526.2" cy="157.3" r="2.3"/>
<circle cx="515.3" cy="134.1" r="2.3"/>
<circle cx="501.2" cy="117.6" r="2.3"/>
<circle cx="545.4" cy="141.4" r="2.3"/>
<circle cx="558.4" cy="153.3" r="2.3"/>
<circle cx="511.2" cy="92.0" r="2.3"/>
<circle cx="549.9" cy="143.4" r="2.3"/>
<circle cx="571.5" cy="156.9" r="2.3"/>
<circle cx="535.7" cy="149.1" r="2.3"/>
<circle cx="551.2" cy="139.5" r="2.3"/>
<circle cx="518.1" cy="114.7" r="2.3"/>
<circle cx="530.2" cy="148.7" r="2.3"/>
<circle cx="555.4" cy="162.9" r="2.3"/>
<circle cx="527.2" cy="120.5" r="2.3"/>
<circle cx="534.1" cy="164.3" r="2.3"/>
<circle cx="539.0" cy="147.5" r="2.3"/>
<circle cx="488.7" cy="116.2" r="2.3"/>
<circle cx="482.7" cy="122.3" r="2.3"/>
<circle cx="553.0" cy="131.1" r="2.3"/>
<circle cx="555.0" cy="154.3" r="2.3"/>
<circle cx="531.4" cy="152.8" r="2.3"/>
<circle cx="543.3" cy="129.0" r="2.3"/>
<circle cx="497.4" cy="136.3" r="2.3"/>
<circle cx="510.1" cy="126.0" r="2.3"/>
<circle cx="546.5" cy="150.7" r="2.3"/>
<circle cx="513.1" cy="95.3" r="2.3"/>
<circle cx="530.3" cy="166.0" r="2.3"/>
<circle cx="504.7" cy="126.7" r="2.3"/>
<circle cx="490.2" cy="114.8" r="2.3"/>
<circle cx="506.4" cy="90.7" r="2.3"/>
<circle cx="529.0" cy="112.1" r="2.3"/>
<circle cx="496.3" cy="130.8" r="2.3"/>
<circle cx="514.7" cy="105.7" r="2.3"/>
<circle cx="571.7" cy="161.6" r="2.3"/>
<circle cx="496.9" cy="93.1" r="2.3"/>
<circle cx="530.2" cy="123.1" r="2.3"/>
<circle cx="521.5" cy="138.9" r="2.3"/>
<circle cx="524.9" cy="101.9" r="2.3"/>
<circle cx="521.4" cy="156.9" r="2.3"/>
<circle cx="539.4" cy="122.9" r="2.3"/>
<circle cx="479.1" cy="119.6" r="2.3"/>
<circle cx="516.3" cy="131.5" r="2.3"/>
<circle cx="530.4" cy="132.4" r="2.3"/>
<circle cx="523.2" cy="130.1" r="2.3"/>
<circle cx="534.0" cy="142.2" r="2.3"/>
<circle cx="527.8" cy="108.8" r="2.3"/>
<circle cx="527.5" cy="104.7" r="2.3"/>
<circle cx="542.9" cy="132.6" r="2.3"/>
<circle cx="509.1" cy="130.9" r="2.3"/>
<circle cx="535.7" cy="142.9" r="2.3"/>
<circle cx="560.8" cy="150.2" r="2.3"/>
<circle cx="533.2" cy="160.4" r="2.3"/>
<circle cx="522.0" cy="145.1" r="2.3"/>
<circle cx="526.2" cy="156.3" r="2.3"/>
<circle cx="530.4" cy="122.4" r="2.3"/>
<circle cx="507.5" cy="121.3" r="2.3"/>
<circle cx="533.5" cy="152.5" r="2.3"/>
<circle cx="512.6" cy="143.5" r="2.3"/>
<circle cx="533.5" cy="155.4" r="2.3"/>
<circle cx="533.0" cy="124.7" r="2.3"/>
<circle cx="554.6" cy="156.7" r="2.3"/>
<circle cx="516.8" cy="152.5" r="2.3"/>
<circle cx="552.4" cy="147.8" r="2.3"/>
<circle cx="550.5" cy="158.0" r="2.3"/>
<circle cx="528.1" cy="158.1" r="2.3"/>
<circle cx="547.4" cy="133.0" r="2.3"/>
<circle cx="559.0" cy="162.6" r="2.3"/>
<circle cx="509.3" cy="113.6" r="2.3"/>
<circle cx="560.7" cy="159.9" r="2.3"/>
<circle cx="485.0" cy="117.3" r="2.3"/>
<circle cx="569.0" cy="157.2" r="2.3"/>
<circle cx="524.8" cy="141.7" r="2.3"/>
<circle cx="524.4" cy="154.2" r="2.3"/>
<circle cx="523.6" cy="107.6" r="2.3"/>
<circle cx="516.4" cy="146.0" r="2.3"/>
<circle cx="515.7" cy="99.1" r="2.3"/>
<circle cx="519.1" cy="99.2" r="2.3"/>
<circle cx="553.2" cy="153.7" r="2.3"/>
<circle cx="530.2" cy="111.6" r="2.3"/>
<circle cx="515.8" cy="142.3" r="2.3"/>
<circle cx="527.7" cy="115.1" r="2.3"/>
<circle cx="543.4" cy="144.5" r="2.3"/>
<circle cx="572.8" cy="152.6" r="2.3"/>
<circle cx="550.5" cy="136.7" r="2.3"/>
<circle cx="522.1" cy="157.9" r="2.3"/>
<circle cx="566.4" cy="155.5" r="2.3"/>
<circle cx="532.8" cy="138.8" r="2.3"/>
<circle cx="541.4" cy="144.0" r="2.3"/>
<circle cx="498.4" cy="110.6" r="2.3"/>
<circle cx="549.7" cy="154.3" r="2.3"/>
<circle cx="525.2" cy="126.8" r="2.3"/>
<circle cx="545.3" cy="131.7" r="2.3"/>
<circle cx="513.7" cy="119.1" r="2.3"/>
<circle cx="566.2" cy="158.7" r="2.3"/>
<circle cx="542.9" cy="134.4" r="2.3"/>
<circle cx="510.5" cy="145.0" r="2.3"/>
<circle cx="487.0" cy="118.9" r="2.3"/>
<circle cx="519.2" cy="124.9" r="2.3"/>
<circle cx="526.7" cy="143.7" r="2.3"/>
<circle cx="504.9" cy="116.6" r="2.3"/>
<circle cx="548.8" cy="158.0" r="2.3"/>
<circle cx="559.8" cy="157.7" r="2.3"/>
<circle cx="482.4" cy="123.1" r="2.3"/>
<circle cx="514.4" cy="105.0" r="2.3"/>
<circle cx="528.4" cy="162.3" r="2.3"/>
<circle cx="512.1" cy="121.9" r="2.3"/>
<circle cx="501.8" cy="118.1" r="2.3"/>
<circle cx="546.5" cy="162.5" r="2.3"/>
<circle cx="529.3" cy="149.8" r="2.3"/>
<circle cx="544.3" cy="144.7" r="2.3"/>
<circle cx="523.6" cy="158.8" r="2.3"/>
<circle cx="576.1" cy="155.4" r="2.3"/>
<circle cx="540.9" cy="131.7" r="2.3"/>
<circle cx="531.8" cy="161.2" r="2.3"/>
<circle cx="558.0" cy="137.1" r="2.3"/>
<circle cx="519.7" cy="110.5" r="2.3"/>
<circle cx="498.9" cy="127.0" r="2.3"/>
<circle cx="526.3" cy="128.7" r="2.3"/>
<circle cx="525.2" cy="140.7" r="2.3"/>
<circle cx="500.4" cy="94.5" r="2.3"/>
<circle cx="563.1" cy="143.1" r="2.3"/>
<circle cx="516.1" cy="122.6" r="2.3"/>
<circle cx="571.9" cy="158.6" r="2.3"/>
<circle cx="527.0" cy="163.7" r="2.3"/>
<circle cx="525.0" cy="143.0" r="2.3"/>
<circle cx="545.2" cy="143.6" r="2.3"/>
<circle cx="551.2" cy="143.1" r="2.3"/>
<circle cx="525.2" cy="146.5" r="2.3"/>
<circle cx="536.4" cy="161.7" r="2.3"/>
<circle cx="536.4" cy="121.3" r="2.3"/>
<circle cx="510.2" cy="147.2" r="2.3"/>
<circle cx="497.2" cy="124.1" r="2.3"/>
<circle cx="501.7" cy="105.8" r="2.3"/>
<circle cx="544.1" cy="143.2" r="2.3"/>
<circle cx="544.1" cy="142.5" r="2.3"/>
<circle cx="568.1" cy="157.8" r="2.3"/>
<circle cx="548.9" cy="156.6" r="2.3"/>
<circle cx="525.3" cy="110.5" r="2.3"/>
<circle cx="527.9" cy="150.3" r="2.3"/>
<circle cx="571.2" cy="159.5" r="2.3"/>
<circle cx="547.2" cy="157.0" r="2.3"/>
<circle cx="502.0" cy="109.4" r="2.3"/>
<circle cx="531.3" cy="133.1" r="2.3"/>
<circle cx="519.2" cy="148.2" r="2.3"/>
<circle cx="514.6" cy="106.6" r="2.3"/>
<circle cx="496.0" cy="116.5" r="2.3"/>
<circle cx="573.8" cy="155.7" r="2.3"/>
<circle cx="559.6" cy="144.9" r="2.3"/>
<circle cx="553.3" cy="153.7" r="2.3"/>
<circle cx="534.6" cy="127.6" r="2.3"/>
<circle cx="523.9" cy="153.4" r="2.3"/>
<circle cx="482.0" cy="118.4" r="2.3"/>
<circle cx="539.0" cy="125.4" r="2.3"/>
<circle cx="506.0" cy="128.1" r="2.3"/>
<circle cx="519.9" cy="136.0" r="2.3"/>
<circle cx="547.7" cy="147.6" r="2.3"/>
<circle cx="561.0" cy="157.9" r="2.3"/>
<circle cx="529.9" cy="159.3" r="2.3"/>
<circle cx="539.0" cy="145.4" r="2.3"/>
<circle cx="531.5" cy="143.4" r="2.3"/>
<circle cx="495.8" cy="114.8" r="2.3"/>
<circle cx="528.9" cy="165.3" r="2.3"/>
<circle cx="521.6" cy="142.6" r="2.3"/>
<circle cx="552.8" cy="138.1" r="2.3"/>
<circle cx="551.4" cy="135.1" r="2.3"/>
<circle cx="519.0" cy="130.5" r="2.3"/>
<circle cx="538.4" cy="162.7" r="2.3"/>
<circle cx="526.2" cy="116.4" r="2.3"/>
<circle cx="511.2" cy="119.2" r="2.3"/>
<circle cx="516.7" cy="140.8" r="2.3"/>
<circle cx="505.4" cy="92.4" r="2.3"/>
<circle cx="536.6" cy="149.3" r="2.3"/>
<circle cx="503.6" cy="134.9" r="2.3"/>
<circle cx="499.1" cy="113.1" r="2.3"/>
<circle cx="527.3" cy="109.3" r="2.3"/>
<circle cx="522.2" cy="148.4" r="2.3"/>
<circle cx="551.1" cy="147.9" r="2.3"/>
<circle cx="511.6" cy="114.4" r="2.3"/>
<circle cx="526.1" cy="166.1" r="2.3"/>
<circle cx="505.0" cy="130.4" r="2.3"/>
<circle cx="482.5" cy="124.0" r="2.3"/>
<circle cx="556.3" cy="163.7" r="2.3"/>
<circle cx="554.8" cy="148.3" r="2.3"/>
<circle cx="510.6" cy="99.1" r="2.3"/>
<circle cx="493.8" cy="130.8" r="2.3"/>
<circle cx="524.8" cy="128.2" r="2.3"/>
<circle cx="486.0" cy="118.3" r="2.3"/>
<circle cx="545.5" cy="141.3" r="2.3"/>
<circle cx="516.8" cy="148.5" r="2.3"/>
<circle cx="492.9" cy="91.9" r="2.3"/>
<circle cx="530.9" cy="152.6" r="2.3"/>
<circle cx="520.8" cy="151.4" r="2.3"/>
<circle cx="519.1" cy="147.6" r="2.3"/>
<circle cx="547.1" cy="158.2" r="2.3"/>
<circle cx="528.0" cy="131.4" r="2.3"/>
<circle cx="489.1" cy="119.4" r="2.3"/>
<circle cx="535.0" cy="145.2" r="2.3"/>
<circle cx="532.7" cy="155.9" r="2.3"/>
<circle cx="577.9" cy="157.3" r="2.3"/>
<circle cx="509.8" cy="94.4" r="2.3"/>
<circle cx="539.6" cy="149.0" r="2.3"/>
<circle cx="532.0" cy="121.7" r="2.3"/>
<circle cx="552.0" cy="155.5" r="2.3"/>
<circle cx="511.8" cy="136.5" r="2.3"/>
<circle cx="541.3" cy="140.5" r="2.3"/>
<circle cx="511.8" cy="140.0" r="2.3"/>
<circle cx="558.9" cy="150.2" r="2.3"/>
<circle cx="545.3" cy="135.4" r="2.3"/>
<circle cx="524.0" cy="110.4" r="2.3"/>
<circle cx="529.2" cy="154.7" r="2.3"/>
<circle cx="516.1" cy="96.7" r="2.3"/>
<circle cx="540.6" cy="153.2" r="2.3"/>
<circle cx="551.9" cy="137.0" r="2.3"/>
<circle cx="531.6" cy="138.9" r="2.3"/>
<circle cx="519.0" cy="141.1" r="2.3"/>
<circle cx="540.5" cy="119.2" r="2.3"/>
<circle cx="515.2" cy="130.3" r="2.3"/>
<circle cx="526.5" cy="138.1" r="2.3"/>
<circle cx="522.7" cy="132.8" r="2.3"/>
<circle cx="512.6" cy="131.3" r="2.3"/>
<circle cx="495.6" cy="91.5" r="2.3"/>
<circle cx="487.0" cy="117.7" r="2.3"/>
<circle cx="535.6" cy="147.8" r="2.3"/>
<circle cx="500.9" cy="115.7" r="2.3"/>
<circle cx="500.9" cy="116.1" r="2.3"/>
<circle cx="493.4" cy="115.2" r="2.3"/>
<circle cx="499.5" cy="117.5" r="2.3"/>
<circle cx="521.5" cy="101.5" r="2.3"/>
<circle cx="568.2" cy="156.4" r="2.3"/>
<circle cx="524.9" cy="102.0" r="2.3"/>
<circle cx="524.9" cy="145.0" r="2.3"/>
<circle cx="529.5" cy="166.3" r="2.3"/>
<circle cx="502.2" cy="93.2" r="2.3"/>
<circle cx="515.7" cy="143.5" r="2.3"/>
<circle cx="519.7" cy="156.6" r="2.3"/>
<circle cx="531.2" cy="150.5" r="2.3"/>
<circle cx="552.6" cy="140.4" r="2.3"/>
<circle cx="529.3" cy="111.5" r="2.3"/>
<circle cx="526.2" cy="152.6" r="2.3"/>
<circle cx="511.2" cy="147.1" r="2.3"/>
<circle cx="530.7" cy="145.2" r="2.3"/>
<circle cx="505.5" cy="127.0" r="2.3"/>
<circle cx="531.2" cy="147.5" r="2.3"/>
<circle cx="531.7" cy="135.1" r="2.3"/>
<circle cx="525.1" cy="159.1" r="2.3"/>
<circle cx="530.2" cy="135.7" r="2.3"/>
<circle cx="562.3" cy="140.0" r="2.3"/>
<circle cx="560.0" cy="140.5" r="2.3"/>
<circle cx="533.4" cy="122.1" r="2.3"/>
<circle cx="552.4" cy="165.6" r="2.3"/>
<circle cx="524.8" cy="164.8" r="2.3"/>
<circle cx="512.8" cy="124.8" r="2.3"/>
<circle cx="496.0" cy="118.0" r="2.3"/>
<circle cx="569.3" cy="153.0" r="2.3"/>
<circle cx="500.7" cy="115.4" r="2.3"/>
<circle cx="517.6" cy="129.7" r="2.3"/>
<circle cx="533.5" cy="159.7" r="2.3"/>
<circle cx="505.6" cy="116.3" r="2.3"/>
<circle cx="537.4" cy="126.9" r="2.3"/>
<circle cx="570.3" cy="158.4" r="2.3"/>
<circle cx="523.4" cy="140.3" r="2.3"/>
<circle cx="506.5" cy="97.6" r="2.3"/>
<circle cx="522.0" cy="164.8" r="2.3"/>
<circle cx="570.5" cy="157.2" r="2.3"/>
<circle cx="575.2" cy="157.2" r="2.3"/>
<circle cx="534.1" cy="155.4" r="2.3"/>
<circle cx="529.3" cy="115.8" r="2.3"/>
<circle cx="500.5" cy="127.5" r="2.3"/>
<circle cx="545.0" cy="131.0" r="2.3"/>
<circle cx="482.8" cy="124.4" r="2.3"/>
<circle cx="564.4" cy="154.5" r="2.3"/>
<circle cx="523.5" cy="158.8" r="2.3"/>
<circle cx="554.3" cy="153.4" r="2.3"/>
<circle cx="508.5" cy="127.6" r="2.3"/>
<circle cx="544.0" cy="142.9" r="2.3"/>
<circle cx="534.8" cy="162.8" r="2.3"/>
<circle cx="483.1" cy="120.5" r="2.3"/>
<circle cx="572.8" cy="157.9" r="2.3"/>
<circle cx="509.2" cy="113.1" r="2.3"/>
<circle cx="571.2" cy="154.4" r="2.3"/>
<circle cx="524.7" cy="144.3" r="2.3"/>
<circle cx="478.8" cy="120.7" r="2.3"/>
<circle cx="546.1" cy="149.9" r="2.3"/>
<circle cx="536.7" cy="140.0" r="2.3"/>
<circle cx="544.4" cy="147.0" r="2.3"/>
<circle cx="535.8" cy="160.3" r="2.3"/>
<circle cx="545.5" cy="129.7" r="2.3"/>
<circle cx="508.1" cy="139.8" r="2.3"/>
<circle cx="502.5" cy="126.7" r="2.3"/>
<circle cx="509.2" cy="131.8" r="2.3"/>
<circle cx="572.5" cy="152.0" r="2.3"/>
<circle cx="499.6" cy="117.6" r="2.3"/>
<circle cx="554.7" cy="145.0" r="2.3"/>
<circle cx="529.0" cy="160.9" r="2.3"/>
<circle cx="515.1" cy="121.6" r="2.3"/>
<circle cx="525.3" cy="150.4" r="2.3"/>
<circle cx="503.3" cy="134.5" r="2.3"/>
<circle cx="515.8" cy="139.7" r="2.3"/>
<circle cx="574.0" cy="161.6" r="2.3"/>
<circle cx="508.0" cy="92.1" r="2.3"/>
<circle cx="518.5" cy="138.6" r="2.3"/>
<circle cx="572.3" cy="154.5" r="2.3"/>
<circle cx="529.2" cy="153.2" r="2.3"/>
<circle cx="480.3" cy="114.5" r="2.3"/>
<circle cx="528.5" cy="145.5" r="2.3"/>
<circle cx="574.3" cy="155.1" r="2.3"/>
<circle cx="519.5" cy="157.3" r="2.3"/>
<circle cx="545.5" cy="143.0" r="2.3"/>
<circle cx="547.4" cy="136.9" r="2.3"/>
<circle cx="518.9" cy="143.4" r="2.3"/>
<circle cx="499.3" cy="112.6" r="2.3"/>
<circle cx="546.8" cy="133.6" r="2.3"/>
<circle cx="550.7" cy="161.7" r="2.3"/>
<circle cx="527.9" cy="121.4" r="2.3"/>
<circle cx="564.3" cy="150.7" r="2.3"/>
<circle cx="561.5" cy="144.3" r="2.3"/>
<circle cx="542.0" cy="116.3" r="2.3"/>
<circle cx="562.4" cy="145.7" r="2.3"/>
<circle cx="537.8" cy="157.7" r="2.3"/>
<circle cx="526.0" cy="152.5" r="2.3"/>
<circle cx="545.4" cy="150.4" r="2.3"/>
<circle cx="515.3" cy="151.3" r="2.3"/>
<circle cx="545.0" cy="159.3" r="2.3"/>
<circle cx="522.5" cy="111.9" r="2.3"/>
<circle cx="524.2" cy="134.4" r="2.3"/>
<circle cx="553.5" cy="143.3" r="2.3"/>
<circle cx="540.7" cy="117.2" r="2.3"/>
<circle cx="478.3" cy="121.0" r="2.3"/>
<circle cx="562.5" cy="142.7" r="2.3"/>
<circle cx="521.3" cy="160.6" r="2.3"/>
<circle cx="557.1" cy="137.7" r="2.3"/>
<circle cx="514.8" cy="117.4" r="2.3"/>
<circle cx="507.6" cy="114.7" r="2.3"/>
<circle cx="478.0" cy="120.2" r="2.3"/>
<circle cx="561.9" cy="138.3" r="2.3"/>
<circle cx="480.0" cy="121.6" r="2.3"/>
<circle cx="549.0" cy="138.1" r="2.3"/>
<circle cx="548.6" cy="132.1" r="2.3"/>
<circle cx="546.7" cy="162.1" r="2.3"/>
<circle cx="506.4" cy="129.1" r="2.3"/>
<circle cx="515.7" cy="138.4" r="2.3"/>
<circle cx="534.4" cy="126.8" r="2.3"/>
<circle cx="524.1" cy="139.3" r="2.3"/>
<circle cx="549.4" cy="136.3" r="2.3"/>
<circle cx="525.5" cy="146.2" r="2.3"/>
<circle cx="523.1" cy="145.5" r="2.3"/>
<circle cx="483.6" cy="112.7" r="2.3"/>
<circle cx="500.7" cy="129.7" r="2.3"/>
<circle cx="530.9" cy="166.4" r="2.3"/>
<circle cx="532.0" cy="145.2" r="2.3"/>
<circle cx="552.2" cy="134.8" r="2.3"/>
<circle cx="536.8" cy="123.2" r="2.3"/>
<circle cx="532.2" cy="132.7" r="2.3"/>
<circle cx="530.9" cy="161.9" r="2.3"/>
<circle cx="515.4" cy="135.1" r="2.3"/>
<circle cx="557.0" cy="137.5" r="2.3"/>
<circle cx="529.3" cy="120.6" r="2.3"/>
<circle cx="554.8" cy="160.8" r="2.3"/>
<circle cx="526.8" cy="164.0" r="2.3"/>
<circle cx="531.4" cy="150.5" r="2.3"/>
<circle cx="531.8" cy="153.6" r="2.3"/>
<circle cx="507.7" cy="130.4" r="2.3"/>
<circle cx="510.8" cy="143.2" r="2.3"/>
<circle cx="534.9" cy="151.9" r="2.3"/>
<circle cx="543.7" cy="158.7" r="2.3"/>
<circle cx="506.1" cy="114.9" r="2.3"/>
<circle cx="539.9" cy="158.6" r="2.3"/>
<circle cx="519.9" cy="150.7" r="2.3"/>
<circle cx="516.8" cy="104.3" r="2.3"/>
<circle cx="557.6" cy="150.3" r="2.3"/>
<circle cx="483.2" cy="121.1" r="2.3"/>
<circle cx="526.2" cy="112.9" r="2.3"/>
<circle cx="521.1" cy="157.4" r="2.3"/>
<circle cx="520.5" cy="130.6" r="2.3"/>
<circle cx="522.4" cy="98.5" r="2.3"/>
<circle cx="546.5" cy="130.4" r="2.3"/>
<circle cx="567.3" cy="159.0" r="2.3"/>
<circle cx="558.7" cy="159.7" r="2.3"/>
<circle cx="521.5" cy="146.4" r="2.3"/>
<circle cx="503.8" cy="118.9" r="2.3"/>
<circle cx="555.4" cy="148.2" r="2.3"/>
<circle cx="521.1" cy="159.3" r="2.3"/>
<circle cx="523.2" cy="156.7" r="2.3"/>
<circle cx="552.5" cy="160.8" r="2.3"/>
<circle cx="532.8" cy="123.9" r="2.3"/>
<circle cx="558.7" cy="146.6" r="2.3"/>
<circle cx="536.8" cy="142.2" r="2.3"/>
<circle cx="512.4" cy="145.1" r="2.3"/>
<circle cx="515.8" cy="125.5" r="2.3"/>
<circle cx="499.3" cy="124.9" r="2.3"/>
<circle cx="538.9" cy="120.7" r="2.3"/>
<circle cx="540.6" cy="153.9" r="2.3"/>
<circle cx="508.5" cy="95.1" r="2.3"/>
<circle cx="571.4" cy="153.3" r="2.3"/>
<circle cx="519.3" cy="137.9" r="2.3"/>
<circle cx="562.5" cy="154.5" r="2.3"/>
<circle cx="515.9" cy="146.9" r="2.3"/>
<circle cx="526.7" cy="166.4" r="2.3"/>
<circle cx="548.2" cy="156.4" r="2.3"/>
<circle cx="509.5" cy="137.5" r="2.3"/>
<circle cx="556.2" cy="138.6" r="2.3"/>
<circle cx="507.9" cy="144.4" r="2.3"/>
<circle cx="556.7" cy="146.9" r="2.3"/>
<circle cx="548.8" cy="138.3" r="2.3"/>
<circle cx="549.1" cy="149.0" r="2.3"/>
<circle cx="524.9" cy="150.8" r="2.3"/>
<circle cx="546.1" cy="150.2" r="2.3"/>
<circle cx="511.3" cy="139.7" r="2.3"/>
<circle cx="519.0" cy="135.7" r="2.3"/>
<circle cx="552.3" cy="131.9" r="2.3"/>
<circle cx="561.8" cy="160.3" r="2.3"/>
<circle cx="545.5" cy="157.3" r="2.3"/>
<circle cx="527.7" cy="130.5" r="2.3"/>
<circle cx="527.0" cy="151.9" r="2.3"/>
<circle cx="508.3" cy="119.4" r="2.3"/>
<circle cx="543.8" cy="147.0" r="2.3"/>
<circle cx="555.3" cy="155.3" r="2.3"/>
<circle cx="513.8" cy="141.1" r="2.3"/>
<circle cx="549.0" cy="148.0" r="2.3"/>
<circle cx="527.8" cy="100.5" r="2.3"/>
<circle cx="491.3" cy="91.4" r="2.3"/>
<circle cx="531.9" cy="135.9" r="2.3"/>
<circle cx="562.8" cy="144.2" r="2.3"/>
<circle cx="517.1" cy="145.4" r="2.3"/>
<circle cx="536.2" cy="156.7" r="2.3"/>
<circle cx="509.5" cy="95.5" r="2.3"/>
<circle cx="565.5" cy="157.4" r="2.3"/>
<circle cx="518.5" cy="148.2" r="2.3"/>
<circle cx="524.8" cy="151.1" r="2.3"/>
<circle cx="526.4" cy="118.1" r="2.3"/>
<circle cx="528.0" cy="165.0" r="2.3"/>
<circle cx="481.7" cy="119.6" r="2.3"/>
<circle cx="513.3" cy="129.1" r="2.3"/>
<circle cx="573.9" cy="160.3" r="2.3"/>
<circle cx="479.5" cy="122.7" r="2.3"/>
<circle cx="505.1" cy="130.6" r="2.3"/>
<circle cx="548.4" cy="150.6" r="2.3"/>
<circle cx="549.8" cy="132.6" r="2.3"/>
<circle cx="497.5" cy="114.0" r="2.3"/>
<circle cx="530.3" cy="122.7" r="2.3"/>
<circle cx="527.6" cy="121.3" r="2.3"/>
<circle cx="541.8" cy="119.5" r="2.3"/>
<circle cx="478.6" cy="122.2" r="2.3"/>
<circle cx="517.3" cy="155.8" r="2.3"/>
<circle cx="525.2" cy="151.4" r="2.3"/>
<circle cx="553.6" cy="147.6" r="2.3"/>
<circle cx="498.8" cy="130.1" r="2.3"/>
<circle cx="503.4" cy="128.7" r="2.3"/>
<circle cx="554.2" cy="156.0" r="2.3"/>
<circle cx="544.0" cy="152.4" r="2.3"/>
<circle cx="503.5" cy="135.1" r="2.3"/>
<circle cx="514.9" cy="100.8" r="2.3"/>
<circle cx="525.0" cy="138.8" r="2.3"/>
<circle cx="508.0" cy="99.0" r="2.3"/>
<circle cx="522.1" cy="164.3" r="2.3"/>
<circle cx="556.4" cy="136.6" r="2.3"/>
<circle cx="533.0" cy="141.9" r="2.3"/>
<circle cx="500.1" cy="114.0" r="2.3"/>
<circle cx="547.4" cy="157.1" r="2.3"/>
<circle cx="561.1" cy="153.4" r="2.3"/>
<circle cx="562.2" cy="157.2" r="2.3"/>
<circle cx="541.0" cy="131.6" r="2.3"/>
<circle cx="549.8" cy="141.7" r="2.3"/>
<circle cx="526.8" cy="106.8" r="2.3"/>
<circle cx="541.8" cy="134.8" r="2.3"/>
<circle cx="521.4" cy="131.5" r="2.3"/>
<circle cx="501.2" cy="109.7" r="2.3"/>
<circle cx="519.2" cy="100.6" r="2.3"/>
<circle cx="549.2" cy="133.6" r="2.3"/>
<circle cx="557.7" cy="153.0" r="2.3"/>
<circle cx="532.7" cy="164.0" r="2.3"/>
<circle cx="521.1" cy="143.9" r="2.3"/>
<circle cx="517.0" cy="125.1" r="2.3"/>
<circle cx="576.7" cy="155.0" r="2.3"/>
<circle cx="538.5" cy="121.1" r="2.3"/>
<circle cx="537.4" cy="141.7" r="2.3"/>
<circle cx="538.4" cy="157.7" r="2.3"/>
<circle cx="567.5" cy="151.1" r="2.3"/>
<circle cx="545.6" cy="130.8" r="2.3"/>
<circle cx="547.1" cy="139.7" r="2.3"/>
<circle cx="560.6" cy="140.9" r="2.3"/>
<circle cx="531.9" cy="160.2" r="2.3"/>
<circle cx="518.6" cy="156.1" r="2.3"/>
<circle cx="543.5" cy="145.6" r="2.3"/>
<circle cx="523.5" cy="162.8" r="2.3"/>
<circle cx="522.4" cy="153.2" r="2.3"/>
<circle cx="536.9" cy="162.9" r="2.3"/>
<circle cx="553.6" cy="157.9" r="2.3"/>
<circle cx="510.7" cy="142.7" r="2.3"/>
<circle cx="506.3" cy="97.6" r="2.3"/>
<circle cx="548.8" cy="161.9" r="2.3"/>
<circle cx="551.4" cy="150.7" r="2.3"/>
<circle cx="504.5" cy="92.1" r="2.3"/>
<circle cx="545.6" cy="133.8" r="2.3"/>
<circle cx="508.8" cy="134.7" r="2.3"/>
<circle cx="548.7" cy="163.7" r="2.3"/>
<circle cx="500.1" cy="111.0" r="2.3"/>
<circle cx="532.4" cy="162.2" r="2.3"/>
<circle cx="544.5" cy="151.3" r="2.3"/>
<circle cx="513.8" cy="138.1" r="2.3"/>
<circle cx="508.6" cy="110.9" r="2.3"/>
<circle cx="539.6" cy="146.1" r="2.3"/>
<circle cx="529.0" cy="151.6" r="2.3"/>
<circle cx="530.9" cy="158.7" r="2.3"/>
<circle cx="521.9" cy="122.3" r="2.3"/>
<circle cx="532.9" cy="146.1" r="2.3"/>
<circle cx="522.4" cy="162.4" r="2.3"/>
<circle cx="567.5" cy="155.8" r="2.3"/>
<circle cx="576.1" cy="160.9" r="2.3"/>
<circle cx="531.9" cy="148.3" r="2.3"/>
<circle cx="545.2" cy="157.1" r="2.3"/>
<circle cx="488.4" cy="117.7" r="2.3"/>
<circle cx="557.4" cy="153.7" r="2.3"/>
<circle cx="548.9" cy="140.6" r="2.3"/>
<circle cx="542.2" cy="136.4" r="2.3"/>
<circle cx="570.3" cy="154.1" r="2.3"/>
<circle cx="544.1" cy="155.8" r="2.3"/>
<circle cx="501.3" cy="127.9" r="2.3"/>
<circle cx="524.8" cy="157.3" r="2.3"/>
<circle cx="520.7" cy="124.5" r="2.3"/>
<circle cx="530.7" cy="109.3" r="2.3"/>
<circle cx="547.7" cy="138.6" r="2.3"/>
<circle cx="560.5" cy="148.5" r="2.3"/>
<circle cx="498.7" cy="109.5" r="2.3"/>
<circle cx="543.8" cy="138.4" r="2.3"/>
<circle cx="540.9" cy="159.3" r="2.3"/>
<circle cx="573.7" cy="161.5" r="2.3"/>
<circle cx="539.6" cy="135.5" r="2.3"/>
<circle cx="559.0" cy="138.9" r="2.3"/>
<circle cx="508.2" cy="140.4" r="2.3"/>
<circle cx="542.5" cy="153.8" r="2.3"/>
<circle cx="514.0" cy="138.4" r="2.3"/>
<circle cx="537.6" cy="152.7" r="2.3"/>
<circle cx="558.6" cy="153.7" r="2.3"/>
<circle cx="554.0" cy="138.5" r="2.3"/>
<circle cx="536.3" cy="159.6" r="2.3"/>
<circle cx="532.3" cy="139.4" r="2.3"/>
<circle cx="543.9" cy="161.5" r="2.3"/>
<circle cx="525.3" cy="139.7" r="2.3"/>
<circle cx="515.5" cy="92.6" r="2.3"/>
<circle cx="531.3" cy="132.7" r="2.3"/>
<circle cx="549.7" cy="132.4" r="2.3"/>
<circle cx="570.7" cy="155.6" r="2.3"/>
<circle cx="562.1" cy="157.6" r="2.3"/>
<circle cx="535.7" cy="125.7" r="2.3"/>
<circle cx="526.6" cy="154.5" r="2.3"/>
<circle cx="552.3" cy="157.8" r="2.3"/>
<circle cx="549.6" cy="158.5" r="2.3"/>
<circle cx="557.0" cy="156.8" r="2.3"/>
<circle cx="501.0" cy="113.3" r="2.3"/>
<circle cx="536.0" cy="143.6" r="2.3"/>
<circle cx="527.4" cy="137.0" r="2.3"/>
<circle cx="567.7" cy="155.9" r="2.3"/>
<circle cx="512.8" cy="136.3" r="2.3"/>
<circle cx="573.1" cy="151.8" r="2.3"/>
<circle cx="576.0" cy="154.6" r="2.3"/>
<circle cx="555.1" cy="150.2" r="2.3"/>
<circle cx="535.8" cy="159.5" r="2.3"/>
<circle cx="557.8" cy="153.5" r="2.3"/>
<circle cx="516.8" cy="121.3" r="2.3"/>
<circle cx="577.2" cy="157.0" r="2.3"/>
<circle cx="539.1" cy="151.4" r="2.3"/>
<circle cx="491.5" cy="129.8" r="2.3"/>
<circle cx="567.4" cy="152.7" r="2.3"/>
<circle cx="494.1" cy="91.1" r="2.3"/>
<circle cx="562.0" cy="152.9" r="2.3"/>
<circle cx="554.1" cy="163.0" r="2.3"/>
<circle cx="525.2" cy="157.4" r="2.3"/>
<circle cx="516.7" cy="120.7" r="2.3"/>
<circle cx="528.8" cy="143.2" r="2.3"/>
<circle cx="517.3" cy="104.2" r="2.3"/>
<circle cx="521.5" cy="139.0" r="2.3"/>
<circle cx="558.3" cy="142.1" r="2.3"/>
<circle cx="527.1" cy="103.3" r="2.3"/>
<circle cx="561.6" cy="138.2" r="2.3"/>
<circle cx="545.1" cy="150.4" r="2.3"/>
<circle cx="522.7" cy="141.0" r="2.3"/>
<circle cx="529.8" cy="147.7" r="2.3"/>
<circle cx="535.8" cy="153.2" r="2.3"/>
<circle cx="515.8" cy="118.7" r="2.3"/>
<circle cx="524.5" cy="161.3" r="2.3"/>
<circle cx="533.2" cy="112.5" r="2.3"/>
<circle cx="557.0" cy="148.1" r="2.3"/>
<circle cx="525.6" cy="112.5" r="2.3"/>
<circle cx="543.0" cy="163.0" r="2.3"/>
<circle cx="542.1" cy="139.8" r="2.3"/>
<circle cx="527.7" cy="158.2" r="2.3"/>
<circle cx="517.4" cy="96.3" r="2.3"/>
<circle cx="541.7" cy="152.7" r="2.3"/>
<circle cx="525.7" cy="159.2" r="2.3"/>
<circle cx="503.4" cy="108.9" r="2.3"/>
<circle cx="540.8" cy="136.8" r="2.3"/>
<circle cx="533.2" cy="142.4" r="2.3"/>
<circle cx="554.7" cy="134.6" r="2.3"/>
<circle cx="554.6" cy="135.4" r="2.3"/>
<circle cx="568.8" cy="157.4" r="2.3"/>
<circle cx="540.8" cy="159.3" r="2.3"/>
<circle cx="542.8" cy="153.8" r="2.3"/>
<circle cx="561.4" cy="143.6" r="2.3"/>
<circle cx="552.8" cy="165.6" r="2.3"/>
<circle cx="553.7" cy="141.0" r="2.3"/>
<circle cx="522.1" cy="126.2" r="2.3"/>
<circle cx="512.6" cy="141.2" r="2.3"/>
<circle cx="547.8" cy="134.6" r="2.3"/>
<circle cx="534.8" cy="162.7" r="2.3"/>
<circle cx="522.7" cy="141.3" r="2.3"/>
<circle cx="514.9" cy="118.8" r="2.3"/>
<circle cx="539.8" cy="143.8" r="2.3"/>
<circle cx="495.1" cy="130.7" r="2.3"/>
<circle cx="536.3" cy="149.4" r="2.3"/>
<circle cx="555.5" cy="143.9" r="2.3"/>
<circle cx="520.0" cy="103.3" r="2.3"/>
<circle cx="570.3" cy="154.8" r="2.3"/>
<circle cx="511.6" cy="101.1" r="2.3"/>
<circle cx="528.4" cy="133.9" r="2.3"/>
<circle cx="497.9" cy="135.0" r="2.3"/>
<circle cx="533.5" cy="162.6" r="2.3"/>
<circle cx="517.0" cy="130.0" r="2.3"/>
<circle cx="534.4" cy="139.8" r="2.3"/>
<circle cx="521.6" cy="129.8" r="2.3"/>
<circle cx="559.8" cy="147.9" r="2.3"/>
<circle cx="545.1" cy="155.7" r="2.3"/>
<circle cx="513.3" cy="128.7" r="2.3"/>
<circle cx="529.4" cy="112.8" r="2.3"/>
<circle cx="512.5" cy="93.9" r="2.3"/>
<circle cx="537.9" cy="141.2" r="2.3"/>
<circle cx="528.5" cy="107.1" r="2.3"/>
<circle cx="552.2" cy="132.4" r="2.3"/>
<circle cx="561.4" cy="153.4" r="2.3"/>
<circle cx="559.0" cy="155.4" r="2.3"/>
<circle cx="525.4" cy="143.7" r="2.3"/>
<circle cx="525.4" cy="134.7" r="2.3"/>
<circle cx="527.4" cy="148.9" r="2.3"/>
<circle cx="524.6" cy="150.2" r="2.3"/>
<circle cx="514.4" cy="150.8" r="2.3"/>
<circle cx="546.9" cy="131.2" r="2.3"/>
<circle cx="531.8" cy="158.7" r="2.3"/>
<circle cx="500.8" cy="107.1" r="2.3"/>
<circle cx="547.3" cy="132.8" r="2.3"/>
<circle cx="515.8" cy="141.3" r="2.3"/>
<circle cx="516.6" cy="93.2" r="2.3"/>
<circle cx="536.1" cy="124.4" r="2.3"/>
<circle cx="496.6" cy="124.9" r="2.3"/>
<circle cx="524.3" cy="143.0" r="2.3"/>
<circle cx="539.7" cy="115.0" r="2.3"/>
<circle cx="519.5" cy="120.5" r="2.3"/>
<circle cx="511.5" cy="141.0" r="2.3"/>
<circle cx="557.9" cy="138.4" r="2.3"/>
<circle cx="515.3" cy="99.8" r="2.3"/>
<circle cx="517.1" cy="120.1" r="2.3"/>
<circle cx="547.1" cy="135.5" r="2.3"/>
<circle cx="558.7" cy="139.1" r="2.3"/>
<circle cx="477.3" cy="112.6" r="2.3"/>
<circle cx="498.8" cy="109.3" r="2.3"/>
<circle cx="525.3" cy="129.3" r="2.3"/>
<circle cx="535.0" cy="151.4" r="2.3"/>
<circle cx="510.3" cy="138.2" r="2.3"/>
<circle cx="516.6" cy="133.0" r="2.3"/>
<circle cx="546.1" cy="138.2" r="2.3"/>
<circle cx="534.2" cy="159.5" r="2.3"/>
<circle cx="524.2" cy="145.2" r="2.3"/>
<circle cx="514.0" cy="103.1" r="2.3"/>
<circle cx="552.6" cy="156.2" r="2.3"/>
<circle cx="524.4" cy="146.2" r="2.3"/>
<circle cx="492.6" cy="114.4" r="2.3"/>
<circle cx="519.4" cy="145.5" r="2.3"/>
<circle cx="555.8" cy="157.9" r="2.3"/>
<circle cx="551.9" cy="136.8" r="2.3"/>
<circle cx="502.7" cy="126.7" r="2.3"/>
<circle cx="559.9" cy="144.8" r="2.3"/>
<circle cx="522.1" cy="152.4" r="2.3"/>
<circle cx="518.3" cy="93.7" r="2.3"/>
<circle cx="570.7" cy="152.5" r="2.3"/>
<circle cx="543.3" cy="138.7" r="2.3"/>
<circle cx="486.3" cy="123.3" r="2.3"/>
<circle cx="507.6" cy="100.7" r="2.3"/>
<circle cx="529.7" cy="107.4" r="2.3"/>
<circle cx="516.0" cy="153.3" r="2.3"/>
<circle cx="559.1" cy="143.2" r="2.3"/>
<circle cx="555.8" cy="139.6" r="2.3"/>
<circle cx="505.6" cy="115.6" r="2.3"/>
<circle cx="548.2" cy="138.3" r="2.3"/>
<circle cx="548.6" cy="143.8" r="2.3"/>
<circle cx="505.7" cy="114.8" r="2.3"/>
<circle cx="539.1" cy="155.2" r="2.3"/>
<circle cx="543.9" cy="158.3" r="2.3"/>
<circle cx="533.3" cy="138.2" r="2.3"/>
<circle cx="538.8" cy="162.6" r="2.3"/>
<circle cx="503.9" cy="115.0" r="2.3"/>
<circle cx="509.2" cy="128.1" r="2.3"/>
<circle cx="534.2" cy="124.9" r="2.3"/>
<circle cx="510.3" cy="99.0" r="2.3"/>
<circle cx="515.4" cy="102.1" r="2.3"/>
<circle cx="558.1" cy="138.5" r="2.3"/>
<circle cx="526.6" cy="160.1" r="2.3"/>
<circle cx="525.2" cy="107.8" r="2.3"/>
<circle cx="513.8" cy="105.6" r="2.3"/>
<circle cx="547.3" cy="158.7" r="2.3"/>
<circle cx="547.2" cy="161.2" r="2.3"/>
<circle cx="529.3" cy="166.2" r="2.3"/>
<circle cx="535.9" cy="149.0" r="2.3"/>
<circle cx="537.9" cy="122.6" r="2.3"/>
<circle cx="516.2" cy="149.9" r="2.3"/>
<circle cx="550.7" cy="138.4" r="2.3"/>
<circle cx="552.3" cy="159.3" r="2.3"/>
<circle cx="554.1" cy="161.6" r="2.3"/>
<circle cx="520.5" cy="143.7" r="2.3"/>
<circle cx="537.0" cy="123.4" r="2.3"/>
<circle cx="513.5" cy="145.4" r="2.3"/>
<circle cx="505.3" cy="100.9" r="2.3"/>
<circle cx="514.9" cy="150.4" r="2.3"/>
<circle cx="538.8" cy="140.9" r="2.3"/>
<circle cx="529.9" cy="141.9" r="2.3"/>
<circle cx="568.3" cy="152.1" r="2.3"/>
<circle cx="516.8" cy="103.4" r="2.3"/>
<circle cx="481.4" cy="118.5" r="2.3"/>
<circle cx="497.0" cy="90.8" r="2.3"/>
<circle cx="534.1" cy="117.1" r="2.3"/>
<circle cx="484.1" cy="115.6" r="2.3"/>
<circle cx="510.0" cy="120.7" r="2.3"/>
<circle cx="525.4" cy="108.2" r="2.3"/>
<circle cx="573.5" cy="155.7" r="2.3"/>
<circle cx="534.4" cy="145.1" r="2.3"/>
<circle cx="536.2" cy="153.4" r="2.3"/>
<circle cx="540.0" cy="133.8" r="2.3"/>
<circle cx="535.3" cy="140.2" r="2.3"/>
<circle cx="536.4" cy="140.7" r="2.3"/>
<circle cx="533.3" cy="143.6" r="2.3"/>
<circle cx="550.3" cy="162.2" r="2.3"/>
<circle cx="533.2" cy="150.0" r="2.3"/>
<circle cx="516.9" cy="129.1" r="2.3"/>
<circle cx="490.1" cy="89.3" r="2.3"/>
<circle cx="536.1" cy="150.1" r="2.3"/>
<circle cx="535.8" cy="128.8" r="2.3"/>
<circle cx="550.7" cy="155.3" r="2.3"/>
<circle cx="523.6" cy="151.3" r="2.3"/>
<circle cx="524.3" cy="134.9" r="2.3"/>
<circle cx="557.5" cy="161.1" r="2.3"/>
<circle cx="555.2" cy="139.8" r="2.3"/>
<circle cx="512.7" cy="120.7" r="2.3"/>
<circle cx="552.8" cy="152.6" r="2.3"/>
<circle cx="550.1" cy="154.6" r="2.3"/>
<circle cx="550.9" cy="135.9" r="2.3"/>
<circle cx="493.2" cy="115.5" r="2.3"/>
<circle cx="537.3" cy="146.9" r="2.3"/>
<circle cx="499.6" cy="108.9" r="2.3"/>
<circle cx="561.8" cy="145.4" r="2.3"/>
<circle cx="572.1" cy="157.4" r="2.3"/>
<circle cx="540.7" cy="116.5" r="2.3"/>
<circle cx="543.0" cy="163.7" r="2.3"/>
<circle cx="559.1" cy="142.7" r="2.3"/>
<circle cx="521.8" cy="139.8" r="2.3"/>
<circle cx="512.2" cy="101.8" r="2.3"/>
<circle cx="513.5" cy="136.4" r="2.3"/>
<circle cx="516.8" cy="116.7" r="2.3"/>
<circle cx="522.8" cy="130.9" r="2.3"/>
<circle cx="548.1" cy="155.9" r="2.3"/>
<circle cx="530.3" cy="148.7" r="2.3"/>
<circle cx="548.2" cy="160.2" r="2.3"/>
<circle cx="517.3" cy="149.3" r="2.3"/>
<circle cx="561.7" cy="160.1" r="2.3"/>
<circle cx="569.9" cy="156.5" r="2.3"/>
<circle cx="554.7" cy="138.2" r="2.3"/>
<circle cx="527.7" cy="109.0" r="2.3"/>
<circle cx="489.1" cy="131.1" r="2.3"/>
<circle cx="532.3" cy="114.7" r="2.3"/>
<circle cx="489.1" cy="118.1" r="2.3"/>
<circle cx="524.4" cy="154.0" r="2.3"/>
<circle cx="534.6" cy="142.2" r="2.3"/>
<circle cx="518.3" cy="138.8" r="2.3"/>
<circle cx="553.7" cy="141.6" r="2.3"/>
<circle cx="508.4" cy="133.9" r="2.3"/>
<circle cx="551.3" cy="144.0" r="2.3"/>
<circle cx="537.3" cy="121.2" r="2.3"/>
<circle cx="485.4" cy="121.1" r="2.3"/>
<circle cx="508.7" cy="133.0" r="2.3"/>
<circle cx="542.0" cy="132.2" r="2.3"/>
<circle cx="488.0" cy="114.2" r="2.3"/>
<circle cx="549.9" cy="147.0" r="2.3"/>
<circle cx="518.3" cy="142.3" r="2.3"/>
<circle cx="514.7" cy="136.4" r="2.3"/>
<circle cx="550.6" cy="148.6" r="2.3"/>
<circle cx="549.8" cy="151.8" r="2.3"/>
<circle cx="551.2" cy="166.0" r="2.3"/>
<circle cx="534.0" cy="161.9" r="2.3"/>
<circle cx="557.4" cy="139.2" r="2.3"/>
<circle cx="540.1" cy="144.8" r="2.3"/>
<circle cx="514.7" cy="121.4" r="2.3"/>
<circle cx="551.1" cy="142.8" r="2.3"/>
<circle cx="524.7" cy="114.4" r="2.3"/>
<circle cx="552.8" cy="139.6" r="2.3"/>
<circle cx="504.2" cy="112.0" r="2.3"/>
<circle cx="551.6" cy="150.8" r="2.3"/>
<circle cx="529.7" cy="141.7" r="2.3"/>
<circle cx="499.2" cy="93.1" r="2.3"/>
<circle cx="516.1" cy="117.2" r="2.3"/>
<circle cx="556.4" cy="144.0" r="2.3"/>
<circle cx="524.5" cy="101.6" r="2.3"/>
<circle cx="525.5" cy="119.1" r="2.3"/>
<circle cx="543.9" cy="128.5" r="2.3"/>
<circle cx="545.7" cy="132.8" r="2.3"/>
<circle cx="548.2" cy="145.5" r="2.3"/>
</g>
<g fill="#000">
<circle cx="477.0" cy="147.5" r="2.3"/>
<circle cx="480.5" cy="145.5" r="2.3"/>
<circle cx="483.5" cy="143.5" r="2.3"/>
<circle cx="486.5" cy="142.5" r="2.3"/>
<circle cx="489.5" cy="142.0" r="2.3"/>
<circle cx="492.5" cy="141.5" r="2.3"/>
<circle cx="495.5" cy="142.5" r="2.3"/>
<circle cx="473.5" cy="148.3" r="2.3"/>
<circle cx="475.5" cy="145.8" r="2.3"/>
<circle cx="478.5" cy="144.0" r="2.3"/>
<circle cx="481.5" cy="142.5" r="2.3"/>
<circle cx="484.5" cy="141.0" r="2.3"/>
<circle cx="487.5" cy="140.0" r="2.3"/>
<circle cx="490.5" cy="139.8" r="2.3"/>
<circle cx="493.5" cy="139.5" r="2.3"/>
<circle cx="496.5" cy="140.5" r="2.3"/>
<circle cx="499.0" cy="142.0" r="2.3"/>
<circle cx="501.0" cy="144.5" r="2.3"/>
<circle cx="484.0" cy="149.5" r="2.3"/>
<circle cx="485.0" cy="153.0" r="2.3"/>
<circle cx="487.0" cy="156.0" r="2.3"/>
<circle cx="489.0" cy="151.0" r="2.3"/>
<circle cx="491.5" cy="158.5" r="2.3"/>
<circle cx="486.0" cy="152.0" r="2.3"/>
<circle cx="485.5" cy="94.5" r="2.3"/>
<circle cx="469.0" cy="120.5" r="2.3"/>
<circle cx="541.5" cy="102.8" r="2.3"/>
<circle cx="527.0" cy="93.5" r="2.3"/>
<circle cx="530.5" cy="95.5" r="2.3"/>
<circle cx="527.0" cy="97.0" r="2.3"/>
<circle cx="569.0" cy="146.0" r="2.3"/>
<circle cx="564.0" cy="166.0" r="2.3"/>
<circle cx="538.0" cy="130.0" r="2.3"/>
<circle cx="542.0" cy="128.5" r="2.3"/>
<circle cx="547.0" cy="128.5" r="2.3"/>
<circle cx="498.0" cy="106.5" r="2.3"/>
<circle cx="497.4" cy="110.9" r="2.3"/>
<circle cx="506.0" cy="148.5" r="2.3"/>
<circle cx="512.0" cy="152.0" r="2.3"/>
<circle cx="516.0" cy="157.0" r="2.3"/>
<circle cx="473.5" cy="150.5" r="2.3"/>
<circle cx="476.2" cy="146.4" r="2.3"/>
<circle cx="475.6" cy="145.3" r="2.3"/>
<circle cx="477.9" cy="145.0" r="2.3"/>
<circle cx="479.4" cy="141.0" r="2.3"/>
<circle cx="481.9" cy="143.1" r="2.3"/>
<circle cx="482.3" cy="142.3" r="2.3"/>
<circle cx="482.5" cy="142.5" r="2.3"/>
<circle cx="485.5" cy="140.7" r="2.3"/>
<circle cx="485.8" cy="141.8" r="2.3"/>
<circle cx="486.5" cy="138.0" r="2.3"/>
<circle cx="489.5" cy="139.0" r="2.3"/>
<circle cx="488.2" cy="138.5" r="2.3"/>
<circle cx="491.4" cy="138.1" r="2.3"/>
<circle cx="491.7" cy="140.2" r="2.3"/>
<circle cx="496.1" cy="140.0" r="2.3"/>
<circle cx="495.6" cy="141.1" r="2.3"/>
<circle cx="498.5" cy="141.0" r="2.3"/>
<circle cx="499.4" cy="144.2" r="2.3"/>
<circle cx="499.6" cy="142.2" r="2.3"/>
</g>
<rect x="400.0" y="34.6" width="235.79999999999995" height="211.20000000000002" fill="none" stroke="#333333" stroke-width="1.6"/>
<line x1="400.00" y1="34.60" x2="403.00" y2="34.60" stroke="#333333" stroke-width="1.2"/>
<line x1="400.00" y1="87.40" x2="403.00" y2="87.40" stroke="#333333" stroke-width="1.2"/>
<line x1="400.00" y1="140.20" x2="403.00" y2="140.20" stroke="#333333" stroke-width="1.2"/>
<line x1="400.00" y1="193.00" x2="403.00" y2="193.00" stroke="#333333" stroke-width="1.2"/>
<line x1="400.00" y1="61.00" x2="402.00" y2="61.00" stroke="#333333" stroke-width="1.2"/>
<line x1="400.00" y1="113.80" x2="402.00" y2="113.80" stroke="#333333" stroke-width="1.2"/>
<line x1="400.00" y1="166.60" x2="402.00" y2="166.60" stroke="#333333" stroke-width="1.2"/>
<line x1="400.00" y1="219.40" x2="402.00" y2="219.40" stroke="#333333" stroke-width="1.2"/>
<line x1="441.30" y1="245.80" x2="441.30" y2="242.80" stroke="#333333" stroke-width="1.2"/>
<line x1="496.96" y1="245.80" x2="496.96" y2="242.80" stroke="#333333" stroke-width="1.2"/>
<line x1="552.62" y1="245.80" x2="552.62" y2="242.80" stroke="#333333" stroke-width="1.2"/>
<line x1="608.28" y1="245.80" x2="608.28" y2="242.80" stroke="#333333" stroke-width="1.2"/>
<line x1="413.47" y1="245.80" x2="413.47" y2="243.80" stroke="#333333" stroke-width="1.2"/>
<line x1="469.13" y1="245.80" x2="469.13" y2="243.80" stroke="#333333" stroke-width="1.2"/>
<line x1="524.79" y1="245.80" x2="524.79" y2="243.80" stroke="#333333" stroke-width="1.2"/>
<line x1="580.45" y1="245.80" x2="580.45" y2="243.80" stroke="#333333" stroke-width="1.2"/>
<line x1="430.20" y1="34.60" x2="430.20" y2="37.60" stroke="#333333" stroke-width="1.2"/>
<line x1="460.40" y1="34.60" x2="460.40" y2="37.60" stroke="#333333" stroke-width="1.2"/>
<line x1="415.10" y1="34.60" x2="415.10" y2="36.60" stroke="#333333" stroke-width="1.2"/>
<line x1="445.30" y1="34.60" x2="445.30" y2="36.60" stroke="#333333" stroke-width="1.2"/>
<line x1="635.80" y1="215.48" x2="632.80" y2="215.48" stroke="#333333" stroke-width="1.2"/>
<line x1="635.80" y1="185.16" x2="632.80" y2="185.16" stroke="#333333" stroke-width="1.2"/>
<line x1="635.80" y1="230.64" x2="633.80" y2="230.64" stroke="#333333" stroke-width="1.2"/>
<line x1="635.80" y1="200.32" x2="633.80" y2="200.32" stroke="#333333" stroke-width="1.2"/>
<g font-family="Liberation Sans, sans-serif" stroke="#1a1a1a" stroke-width="0.2">
<text transform="translate(1.46,30.11) scale(0.9568,1)" font-size="18.77" font-weight="bold" fill="#1a1a1a" stroke-width="0">a)</text>
<text transform="translate(66.59,13.74) scale(1.1220,1)" font-size="16.25" font-weight="normal" fill="#1a1a1a">Count</text>
<text transform="translate(54.20,29.78) scale(1.2551,1)" font-size="12.01" font-weight="normal" fill="#1a1a1a">0</text>
<text transform="translate(76.71,29.78) scale(1.1027,1)" font-size="12.01" font-weight="normal" fill="#1a1a1a">100</text>
<text transform="translate(106.05,29.78) scale(1.0800,1)" font-size="12.01" font-weight="normal" fill="#1a1a1a">200</text>
<text transform="translate(33.81,41.20) scale(1.0700,1)" font-size="14.56" font-weight="normal" fill="#1a1a1a">0.3</text>
<text transform="translate(33.93,76.15) scale(1.0700,1)" font-size="14.56" font-weight="normal" fill="#1a1a1a">0.2</text>
<text transform="translate(33.89,111.10) scale(1.0700,1)" font-size="14.56" font-weight="normal" fill="#1a1a1a">0.1</text>
<text transform="translate(33.73,146.05) scale(1.0700,1)" font-size="14.56" font-weight="normal" fill="#1a1a1a">0.0</text>
<text transform="translate(28.71,181.00) scale(1.0700,1)" font-size="14.56" font-weight="normal" fill="#1a1a1a">-0.1</text>
<text transform="translate(28.75,215.95) scale(1.0700,1)" font-size="14.56" font-weight="normal" fill="#1a1a1a">-0.2</text>
<text transform="translate(28.63,250.90) scale(1.0700,1)" font-size="14.56" font-weight="normal" fill="#1a1a1a">-0.3</text>
<text transform="translate(63.07,261.75) scale(0.9981,1)" font-size="15.41" font-weight="normal" fill="#1a1a1a">91.2</text>
<text transform="translate(116.47,261.75) scale(0.9981,1)" font-size="15.41" font-weight="normal" fill="#1a1a1a">92.0</text>
<text transform="translate(170.01,261.75) scale(0.9981,1)" font-size="15.41" font-weight="normal" fill="#1a1a1a">92.8</text>
<text transform="translate(223.51,261.75) scale(0.9981,1)" font-size="15.41" font-weight="normal" fill="#1a1a1a">93.6</text>
<text transform="translate(276.89,261.75) scale(0.9981,1)" font-size="15.41" font-weight="normal" fill="#1a1a1a">94.4</text>
<text transform="translate(144.19,282.83) scale(1.0212,1)" font-size="16.73" font-weight="normal" fill="#1a1a1a">DOP (%)</text>
<text transform="translate(294.32,204.08) scale(1.0900,1)" font-size="12.44" font-weight="normal" fill="#1a1a1a">200</text>
<text transform="translate(293.98,227.23) scale(1.0900,1)" font-size="12.44" font-weight="normal" fill="#1a1a1a">100</text>
<text transform="translate(294.46,250.38) scale(1.0900,1)" font-size="12.44" font-weight="normal" fill="#1a1a1a">0</text>
<text transform="translate(321.18,195.60) rotate(90) scale(1.0192,1)" font-size="17.67" font-weight="normal" fill="#1a1a1a">Count</text>
<text transform="translate(21.91,194.85) rotate(-90) scale(1.0833,1)" font-size="16.84" font-weight="normal" fill="#1a1a1a">Azimuth (deg)</text>
<text transform="translate(335.57,26.53) scale(1.0168,1)" font-size="18.66" font-weight="bold" fill="#1a1a1a" stroke-width="0">b)</text>
<text transform="translate(408.19,14.63) scale(1.0889,1)" font-size="16.68" font-weight="normal" fill="#1a1a1a">Count</text>
<text transform="translate(396.23,27.77) scale(1.1321,1)" font-size="12.58" font-weight="normal" fill="#1a1a1a">0</text>
<text transform="translate(422.53,27.77) scale(1.0574,1)" font-size="12.58" font-weight="normal" fill="#1a1a1a">80</text>
<text transform="translate(448.80,27.77) scale(1.0633,1)" font-size="12.58" font-weight="normal" fill="#1a1a1a">160</text>
<text transform="translate(375.33,38.66) scale(1.0600,1)" font-size="14.42" font-weight="normal" fill="#1a1a1a">1.0</text>
<text transform="translate(375.37,91.46) scale(1.0600,1)" font-size="14.42" font-weight="normal" fill="#1a1a1a">0.5</text>
<text transform="translate(375.33,144.26) scale(1.0600,1)" font-size="14.42" font-weight="normal" fill="#1a1a1a">0.0</text>
<text transform="translate(370.29,197.06) scale(1.0600,1)" font-size="14.42" font-weight="normal" fill="#1a1a1a">-0.5</text>
<text transform="translate(370.25,249.86) scale(1.0600,1)" font-size="14.42" font-weight="normal" fill="#1a1a1a">-1.0</text>
<text transform="translate(426.22,260.75) scale(1.0244,1)" font-size="14.98" font-weight="normal" fill="#1a1a1a">97.4</text>
<text transform="translate(482.00,260.75) scale(1.0244,1)" font-size="14.98" font-weight="normal" fill="#1a1a1a">97.6</text>
<text transform="translate(537.66,260.75) scale(1.0244,1)" font-size="14.98" font-weight="normal" fill="#1a1a1a">97.8</text>
<text transform="translate(593.28,260.75) scale(1.0244,1)" font-size="14.98" font-weight="normal" fill="#1a1a1a">98.0</text>
<text transform="translate(483.65,281.24) scale(1.0278,1)" font-size="17.16" font-weight="normal" fill="#1a1a1a">DOP [%]</text>
<text transform="translate(638.29,188.93) scale(1.0600,1)" font-size="12.72" font-weight="normal" fill="#1a1a1a">160</text>
<text transform="translate(638.73,219.25) scale(1.0600,1)" font-size="12.72" font-weight="normal" fill="#1a1a1a">80</text>
<text transform="translate(638.76,249.57) scale(1.0600,1)" font-size="12.72" font-weight="normal" fill="#1a1a1a">0</text>
<text transform="translate(659.68,192.12) rotate(90) scale(0.9975,1)" font-size="17.67" font-weight="normal" fill="#1a1a1a">Count</text>
<text transform="translate(361.91,199.25) rotate(-90) scale(1.0939,1)" font-size="16.84" font-weight="normal" fill="#1a1a1a">Azimuth (deg)</text>
</g>
</svg>
</body></html>
